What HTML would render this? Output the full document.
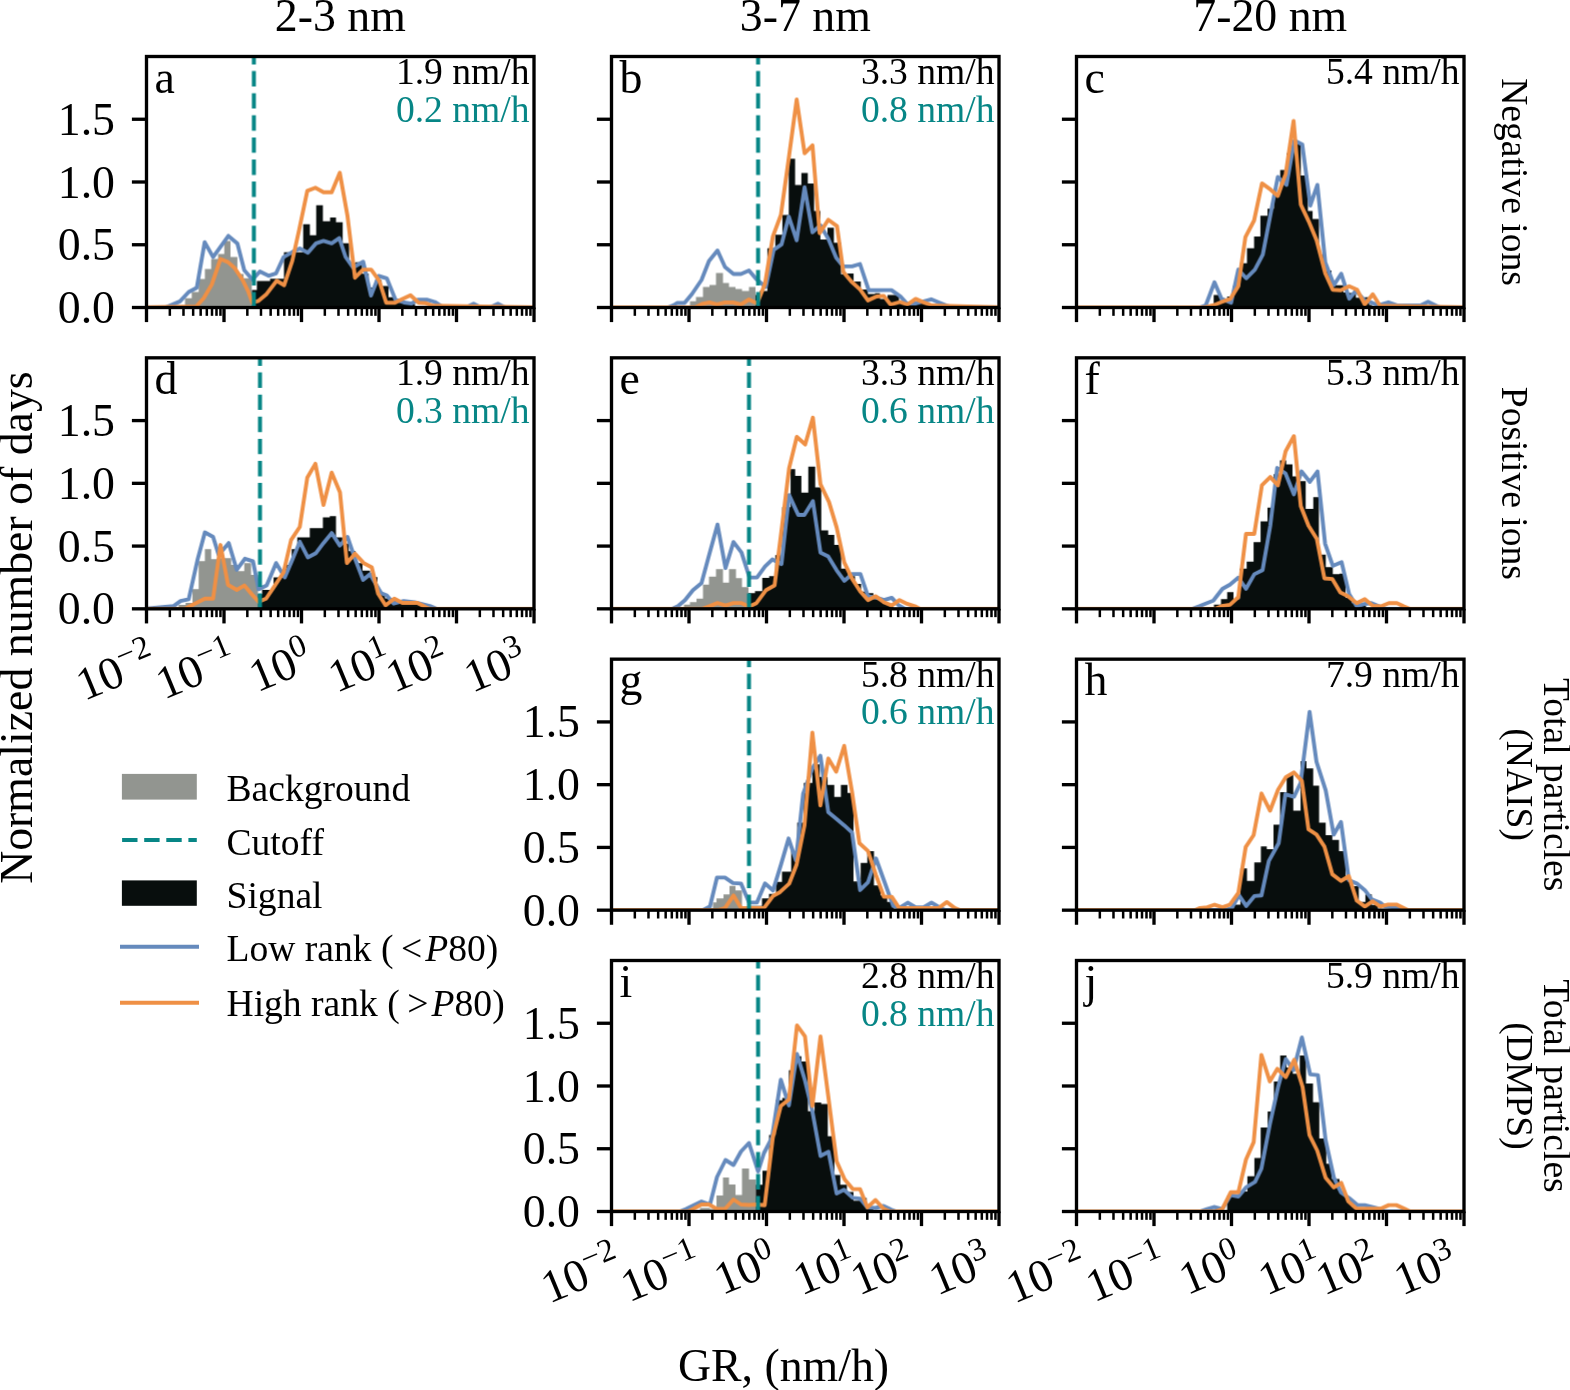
<!DOCTYPE html><html><head><meta charset="utf-8"><style>html,body{margin:0;padding:0;background:#fff;}svg{display:block;will-change:transform;}text{font-family:"Liberation Serif",serif;}</style></head><body>
<svg width="1570" height="1390" viewBox="0 0 1570 1390">
<rect width="1570" height="1390" fill="#fff"/>
<svg x="146.5" y="56.5" width="387.5" height="251.0" overflow="hidden"><g transform="translate(-146.5,-56.5)">
<path d="M185.00,309.50V298.30H191.80V309.50ZM191.80,309.50V292.10H198.70V309.50ZM198.70,309.50V278.90H204.90V309.50ZM204.90,309.50V269.00H211.20V309.50ZM211.20,309.50V259.00H218.10V309.50ZM218.10,309.50V254.00H224.30V309.50ZM224.30,309.50V240.90H230.50V309.50ZM230.50,309.50V257.10H237.40V309.50ZM237.40,309.50V274.00H243.60V309.50ZM243.60,309.50V278.30H251.80V309.50Z" fill="#929590"/>
<path d="M252.00,309.50V290.00H256.90V309.50ZM256.90,309.50V281.00H270.10V309.50ZM270.10,309.50V278.70H284.00V309.50ZM284.00,309.50V252.20H303.20V309.50ZM303.20,309.50V224.30H309.90V309.50ZM309.90,309.50V235.30H316.20V309.50ZM316.20,309.50V205.30H322.90V309.50ZM322.90,309.50V221.20H330.10V309.50ZM330.10,309.50V217.40H336.00V309.50ZM336.00,309.50V222.30H342.70V309.50ZM342.70,309.50V243.30H349.10V309.50ZM349.10,309.50V263.00H355.70V309.50ZM355.70,309.50V262.20H362.00V309.50ZM362.00,309.50V273.70H368.70V309.50ZM368.70,309.50V287.50H375.30V309.50ZM375.30,309.50V280.00H381.60V309.50ZM381.60,309.50V286.10H388.50V309.50ZM388.50,309.50V297.30H395.10V309.50ZM395.10,309.50V298.50H401.80V309.50ZM401.80,309.50V302.50H408.70V309.50ZM408.70,309.50V304.00H415.00V309.50Z" fill="#080e0d"/>
<path d="M143.50,307.50L165.50,307.50L180.00,301.40L188.70,292.00L196.80,287.70L204.70,242.10L213.10,257.10L228.40,235.90L237.40,243.40L244.30,270.20L252.40,279.60L259.90,271.50L268.60,275.80L276.10,273.30L283.60,257.10L292.30,252.10L299.80,248.40L307.90,252.70L316.00,243.40L323.50,240.90L331.70,243.40L339.30,238.10L345.60,257.00L353.00,267.50L363.20,261.70L371.00,295.60L378.70,276.00L386.80,278.30L395.40,299.60L404.10,302.50L411.50,303.70L418.00,299.60L426.80,299.60L434.90,302.00L441.70,306.50L466.00,307.50L473.60,303.80L481.00,307.50L490.00,307.50L497.90,303.80L505.00,307.50L537.00,307.50" fill="none" stroke="#658abd" stroke-width="3.9" stroke-linejoin="round" stroke-linecap="butt"/>
<path d="M143.50,307.50L196.20,306.50L203.70,298.30L211.80,284.50L220.50,259.00L228.00,262.10L234.90,268.30L242.40,279.60L248.00,290.80L252.40,302.70L258.60,300.80L266.10,294.60L276.70,280.80L284.20,285.20L292.30,260.80L299.20,229.60L307.30,190.90L315.40,187.80L323.50,192.20L331.70,192.20L339.80,172.80L347.50,215.90L355.00,277.70L363.10,269.60L371.20,269.60L379.30,280.80L386.20,302.70L394.90,302.70L402.40,298.90L410.50,295.20L418.70,302.70L426.10,303.30L433.00,305.80L537.00,307.50" fill="none" stroke="#ef9045" stroke-width="3.9" stroke-linejoin="round" stroke-linecap="butt"/>
<line x1="253.9" y1="307.5" x2="253.9" y2="56.5" stroke="#078686" stroke-width="4.0" stroke-dasharray="15.4 6.7"/>
</g></svg>
<rect x="146.5" y="56.5" width="387.5" height="251.0" fill="none" stroke="#000" stroke-width="3.33"/>
<line x1="131.90" y1="307.50" x2="146.50" y2="307.50" stroke="#000" stroke-width="3.33"/>
<line x1="131.90" y1="244.75" x2="146.50" y2="244.75" stroke="#000" stroke-width="3.33"/>
<line x1="131.90" y1="182.00" x2="146.50" y2="182.00" stroke="#000" stroke-width="3.33"/>
<line x1="131.90" y1="119.25" x2="146.50" y2="119.25" stroke="#000" stroke-width="3.33"/>
<line x1="146.50" y1="307.50" x2="146.50" y2="322.10" stroke="#000" stroke-width="3.33"/>
<line x1="169.83" y1="307.50" x2="169.83" y2="315.83" stroke="#000" stroke-width="2.5"/>
<line x1="183.48" y1="307.50" x2="183.48" y2="315.83" stroke="#000" stroke-width="2.5"/>
<line x1="193.16" y1="307.50" x2="193.16" y2="315.83" stroke="#000" stroke-width="2.5"/>
<line x1="200.67" y1="307.50" x2="200.67" y2="315.83" stroke="#000" stroke-width="2.5"/>
<line x1="206.81" y1="307.50" x2="206.81" y2="315.83" stroke="#000" stroke-width="2.5"/>
<line x1="212.00" y1="307.50" x2="212.00" y2="315.83" stroke="#000" stroke-width="2.5"/>
<line x1="216.49" y1="307.50" x2="216.49" y2="315.83" stroke="#000" stroke-width="2.5"/>
<line x1="220.45" y1="307.50" x2="220.45" y2="315.83" stroke="#000" stroke-width="2.5"/>
<line x1="224.00" y1="307.50" x2="224.00" y2="322.10" stroke="#000" stroke-width="3.33"/>
<line x1="247.33" y1="307.50" x2="247.33" y2="315.83" stroke="#000" stroke-width="2.5"/>
<line x1="260.98" y1="307.50" x2="260.98" y2="315.83" stroke="#000" stroke-width="2.5"/>
<line x1="270.66" y1="307.50" x2="270.66" y2="315.83" stroke="#000" stroke-width="2.5"/>
<line x1="278.17" y1="307.50" x2="278.17" y2="315.83" stroke="#000" stroke-width="2.5"/>
<line x1="284.31" y1="307.50" x2="284.31" y2="315.83" stroke="#000" stroke-width="2.5"/>
<line x1="289.50" y1="307.50" x2="289.50" y2="315.83" stroke="#000" stroke-width="2.5"/>
<line x1="293.99" y1="307.50" x2="293.99" y2="315.83" stroke="#000" stroke-width="2.5"/>
<line x1="297.95" y1="307.50" x2="297.95" y2="315.83" stroke="#000" stroke-width="2.5"/>
<line x1="301.50" y1="307.50" x2="301.50" y2="322.10" stroke="#000" stroke-width="3.33"/>
<line x1="324.83" y1="307.50" x2="324.83" y2="315.83" stroke="#000" stroke-width="2.5"/>
<line x1="338.48" y1="307.50" x2="338.48" y2="315.83" stroke="#000" stroke-width="2.5"/>
<line x1="348.16" y1="307.50" x2="348.16" y2="315.83" stroke="#000" stroke-width="2.5"/>
<line x1="355.67" y1="307.50" x2="355.67" y2="315.83" stroke="#000" stroke-width="2.5"/>
<line x1="361.81" y1="307.50" x2="361.81" y2="315.83" stroke="#000" stroke-width="2.5"/>
<line x1="367.00" y1="307.50" x2="367.00" y2="315.83" stroke="#000" stroke-width="2.5"/>
<line x1="371.49" y1="307.50" x2="371.49" y2="315.83" stroke="#000" stroke-width="2.5"/>
<line x1="375.45" y1="307.50" x2="375.45" y2="315.83" stroke="#000" stroke-width="2.5"/>
<line x1="379.00" y1="307.50" x2="379.00" y2="322.10" stroke="#000" stroke-width="3.33"/>
<line x1="402.33" y1="307.50" x2="402.33" y2="315.83" stroke="#000" stroke-width="2.5"/>
<line x1="415.98" y1="307.50" x2="415.98" y2="315.83" stroke="#000" stroke-width="2.5"/>
<line x1="425.66" y1="307.50" x2="425.66" y2="315.83" stroke="#000" stroke-width="2.5"/>
<line x1="433.17" y1="307.50" x2="433.17" y2="315.83" stroke="#000" stroke-width="2.5"/>
<line x1="439.31" y1="307.50" x2="439.31" y2="315.83" stroke="#000" stroke-width="2.5"/>
<line x1="444.50" y1="307.50" x2="444.50" y2="315.83" stroke="#000" stroke-width="2.5"/>
<line x1="448.99" y1="307.50" x2="448.99" y2="315.83" stroke="#000" stroke-width="2.5"/>
<line x1="452.95" y1="307.50" x2="452.95" y2="315.83" stroke="#000" stroke-width="2.5"/>
<line x1="456.50" y1="307.50" x2="456.50" y2="322.10" stroke="#000" stroke-width="3.33"/>
<line x1="479.83" y1="307.50" x2="479.83" y2="315.83" stroke="#000" stroke-width="2.5"/>
<line x1="493.48" y1="307.50" x2="493.48" y2="315.83" stroke="#000" stroke-width="2.5"/>
<line x1="503.16" y1="307.50" x2="503.16" y2="315.83" stroke="#000" stroke-width="2.5"/>
<line x1="510.67" y1="307.50" x2="510.67" y2="315.83" stroke="#000" stroke-width="2.5"/>
<line x1="516.81" y1="307.50" x2="516.81" y2="315.83" stroke="#000" stroke-width="2.5"/>
<line x1="522.00" y1="307.50" x2="522.00" y2="315.83" stroke="#000" stroke-width="2.5"/>
<line x1="526.49" y1="307.50" x2="526.49" y2="315.83" stroke="#000" stroke-width="2.5"/>
<line x1="530.45" y1="307.50" x2="530.45" y2="315.83" stroke="#000" stroke-width="2.5"/>
<line x1="534.00" y1="307.50" x2="534.00" y2="322.10" stroke="#000" stroke-width="3.33"/>
<svg x="611.5" y="56.5" width="387.5" height="251.0" overflow="hidden"><g transform="translate(-611.5,-56.5)">
<path d="M690.00,309.50V301.20H696.00V309.50ZM696.00,309.50V297.00H703.00V309.50ZM703.00,309.50V287.00H709.50V309.50ZM709.50,309.50V285.00H716.00V309.50ZM716.00,309.50V273.00H723.00V309.50ZM723.00,309.50V283.00H729.00V309.50ZM729.00,309.50V287.00H735.50V309.50ZM735.50,309.50V289.00H742.00V309.50ZM742.00,309.50V291.00H749.00V309.50ZM749.00,309.50V287.00H755.50V309.50Z" fill="#929590"/>
<path d="M755.50,309.50V295.00H759.50V309.50ZM759.50,309.50V291.00H767.40V309.50ZM767.40,309.50V248.20H775.30V309.50ZM775.30,309.50V234.80H782.40V309.50ZM782.40,309.50V215.00H788.80V309.50ZM788.80,309.50V158.80H795.10V309.50ZM795.10,309.50V184.90H801.40V309.50ZM801.40,309.50V173.10H807.80V309.50ZM807.80,309.50V183.40H814.10V309.50ZM814.10,309.50V211.00H820.40V309.50ZM820.40,309.50V239.50H827.50V309.50ZM827.50,309.50V227.70H833.90V309.50ZM833.90,309.50V242.70H841.00V309.50ZM841.00,309.50V274.30H847.30V309.50ZM847.30,309.50V273.50H853.60V309.50ZM853.60,309.50V281.50H860.80V309.50ZM860.80,309.50V289.40H867.90V309.50ZM867.90,309.50V294.10H875.00V309.50ZM875.00,309.50V293.30H880.00V309.50ZM880.00,309.50V299.00H887.60V309.50ZM887.60,309.50V295.10H899.00V309.50ZM899.00,309.50V302.80H906.50V309.50ZM906.50,309.50V304.00H914.00V309.50ZM914.00,309.50V302.80H921.50V309.50ZM921.50,309.50V303.50H932.00V309.50Z" fill="#080e0d"/>
<path d="M608.50,307.50L668.00,307.50L674.00,305.00L677.00,303.00L684.50,303.00L692.00,294.00L701.50,280.00L709.00,261.00L717.50,250.50L725.00,267.00L733.50,274.00L741.00,274.00L749.00,270.50L756.20,279.00L765.80,287.00L773.70,249.80L781.60,244.30L788.80,216.60L796.70,240.30L804.60,187.30L812.50,232.40L820.40,225.30L828.30,238.70L836.20,257.70L843.40,266.40L852.10,266.40L860.00,264.00L868.70,290.20L876.60,290.20L883.80,290.10L891.50,290.10L900.60,296.60L906.80,303.50L916.00,303.50L923.00,301.50L931.20,299.30L939.00,302.50L946.50,305.50L953.00,307.50L1002.00,307.50" fill="none" stroke="#658abd" stroke-width="3.9" stroke-linejoin="round" stroke-linecap="butt"/>
<path d="M608.50,307.50L695.00,307.50L702.00,304.00L709.50,302.50L717.00,304.50L725.00,302.50L733.00,302.50L741.00,304.50L749.00,299.50L757.10,303.60L765.00,283.80L772.90,236.40L780.90,215.00L788.80,158.00L796.70,99.50L804.60,153.30L812.50,145.40L819.60,233.20L828.30,219.70L837.00,226.10L843.40,272.00L851.30,281.50L860.00,289.40L867.90,300.40L876.60,296.50L883.80,295.90L890.70,304.70L899.90,302.00L907.50,304.70L915.60,298.90L923.60,302.40L932.00,305.50L1002.00,307.50" fill="none" stroke="#ef9045" stroke-width="3.9" stroke-linejoin="round" stroke-linecap="butt"/>
<line x1="758.1" y1="307.5" x2="758.1" y2="56.5" stroke="#078686" stroke-width="4.0" stroke-dasharray="15.4 6.7"/>
</g></svg>
<rect x="611.5" y="56.5" width="387.5" height="251.0" fill="none" stroke="#000" stroke-width="3.33"/>
<line x1="596.90" y1="307.50" x2="611.50" y2="307.50" stroke="#000" stroke-width="3.33"/>
<line x1="596.90" y1="244.75" x2="611.50" y2="244.75" stroke="#000" stroke-width="3.33"/>
<line x1="596.90" y1="182.00" x2="611.50" y2="182.00" stroke="#000" stroke-width="3.33"/>
<line x1="596.90" y1="119.25" x2="611.50" y2="119.25" stroke="#000" stroke-width="3.33"/>
<line x1="611.50" y1="307.50" x2="611.50" y2="322.10" stroke="#000" stroke-width="3.33"/>
<line x1="634.83" y1="307.50" x2="634.83" y2="315.83" stroke="#000" stroke-width="2.5"/>
<line x1="648.48" y1="307.50" x2="648.48" y2="315.83" stroke="#000" stroke-width="2.5"/>
<line x1="658.16" y1="307.50" x2="658.16" y2="315.83" stroke="#000" stroke-width="2.5"/>
<line x1="665.67" y1="307.50" x2="665.67" y2="315.83" stroke="#000" stroke-width="2.5"/>
<line x1="671.81" y1="307.50" x2="671.81" y2="315.83" stroke="#000" stroke-width="2.5"/>
<line x1="677.00" y1="307.50" x2="677.00" y2="315.83" stroke="#000" stroke-width="2.5"/>
<line x1="681.49" y1="307.50" x2="681.49" y2="315.83" stroke="#000" stroke-width="2.5"/>
<line x1="685.45" y1="307.50" x2="685.45" y2="315.83" stroke="#000" stroke-width="2.5"/>
<line x1="689.00" y1="307.50" x2="689.00" y2="322.10" stroke="#000" stroke-width="3.33"/>
<line x1="712.33" y1="307.50" x2="712.33" y2="315.83" stroke="#000" stroke-width="2.5"/>
<line x1="725.98" y1="307.50" x2="725.98" y2="315.83" stroke="#000" stroke-width="2.5"/>
<line x1="735.66" y1="307.50" x2="735.66" y2="315.83" stroke="#000" stroke-width="2.5"/>
<line x1="743.17" y1="307.50" x2="743.17" y2="315.83" stroke="#000" stroke-width="2.5"/>
<line x1="749.31" y1="307.50" x2="749.31" y2="315.83" stroke="#000" stroke-width="2.5"/>
<line x1="754.50" y1="307.50" x2="754.50" y2="315.83" stroke="#000" stroke-width="2.5"/>
<line x1="758.99" y1="307.50" x2="758.99" y2="315.83" stroke="#000" stroke-width="2.5"/>
<line x1="762.95" y1="307.50" x2="762.95" y2="315.83" stroke="#000" stroke-width="2.5"/>
<line x1="766.50" y1="307.50" x2="766.50" y2="322.10" stroke="#000" stroke-width="3.33"/>
<line x1="789.83" y1="307.50" x2="789.83" y2="315.83" stroke="#000" stroke-width="2.5"/>
<line x1="803.48" y1="307.50" x2="803.48" y2="315.83" stroke="#000" stroke-width="2.5"/>
<line x1="813.16" y1="307.50" x2="813.16" y2="315.83" stroke="#000" stroke-width="2.5"/>
<line x1="820.67" y1="307.50" x2="820.67" y2="315.83" stroke="#000" stroke-width="2.5"/>
<line x1="826.81" y1="307.50" x2="826.81" y2="315.83" stroke="#000" stroke-width="2.5"/>
<line x1="832.00" y1="307.50" x2="832.00" y2="315.83" stroke="#000" stroke-width="2.5"/>
<line x1="836.49" y1="307.50" x2="836.49" y2="315.83" stroke="#000" stroke-width="2.5"/>
<line x1="840.45" y1="307.50" x2="840.45" y2="315.83" stroke="#000" stroke-width="2.5"/>
<line x1="844.00" y1="307.50" x2="844.00" y2="322.10" stroke="#000" stroke-width="3.33"/>
<line x1="867.33" y1="307.50" x2="867.33" y2="315.83" stroke="#000" stroke-width="2.5"/>
<line x1="880.98" y1="307.50" x2="880.98" y2="315.83" stroke="#000" stroke-width="2.5"/>
<line x1="890.66" y1="307.50" x2="890.66" y2="315.83" stroke="#000" stroke-width="2.5"/>
<line x1="898.17" y1="307.50" x2="898.17" y2="315.83" stroke="#000" stroke-width="2.5"/>
<line x1="904.31" y1="307.50" x2="904.31" y2="315.83" stroke="#000" stroke-width="2.5"/>
<line x1="909.50" y1="307.50" x2="909.50" y2="315.83" stroke="#000" stroke-width="2.5"/>
<line x1="913.99" y1="307.50" x2="913.99" y2="315.83" stroke="#000" stroke-width="2.5"/>
<line x1="917.95" y1="307.50" x2="917.95" y2="315.83" stroke="#000" stroke-width="2.5"/>
<line x1="921.50" y1="307.50" x2="921.50" y2="322.10" stroke="#000" stroke-width="3.33"/>
<line x1="944.83" y1="307.50" x2="944.83" y2="315.83" stroke="#000" stroke-width="2.5"/>
<line x1="958.48" y1="307.50" x2="958.48" y2="315.83" stroke="#000" stroke-width="2.5"/>
<line x1="968.16" y1="307.50" x2="968.16" y2="315.83" stroke="#000" stroke-width="2.5"/>
<line x1="975.67" y1="307.50" x2="975.67" y2="315.83" stroke="#000" stroke-width="2.5"/>
<line x1="981.81" y1="307.50" x2="981.81" y2="315.83" stroke="#000" stroke-width="2.5"/>
<line x1="987.00" y1="307.50" x2="987.00" y2="315.83" stroke="#000" stroke-width="2.5"/>
<line x1="991.49" y1="307.50" x2="991.49" y2="315.83" stroke="#000" stroke-width="2.5"/>
<line x1="995.45" y1="307.50" x2="995.45" y2="315.83" stroke="#000" stroke-width="2.5"/>
<line x1="999.00" y1="307.50" x2="999.00" y2="322.10" stroke="#000" stroke-width="3.33"/>
<svg x="1076.5" y="56.5" width="387.5" height="251.0" overflow="hidden"><g transform="translate(-1076.5,-56.5)">
<path d="M1213.70,309.50V294.90H1220.90V309.50ZM1220.90,309.50V300.40H1227.20V309.50ZM1227.20,309.50V296.50H1232.70V309.50ZM1232.70,309.50V286.20H1239.80V309.50ZM1239.80,309.50V263.30H1247.00V309.50ZM1247.00,309.50V248.20H1254.10V309.50ZM1254.10,309.50V236.40H1260.40V309.50ZM1260.40,309.50V215.80H1267.50V309.50ZM1267.50,309.50V208.70H1273.90V309.50ZM1273.90,309.50V194.40H1280.20V309.50ZM1280.20,309.50V169.90H1286.50V309.50ZM1286.50,309.50V153.30H1293.60V309.50ZM1293.60,309.50V143.00H1300.80V309.50ZM1300.80,309.50V175.40H1307.90V309.50ZM1307.90,309.50V211.00H1312.60V309.50ZM1312.60,309.50V219.00H1319.00V309.50ZM1319.00,309.50V254.60H1326.10V309.50ZM1326.10,309.50V270.40H1331.50V309.50ZM1331.50,309.50V285.30H1343.40V309.50ZM1343.40,309.50V292.40H1349.60V309.50ZM1349.60,309.50V293.00H1355.90V309.50ZM1355.90,309.50V297.80H1364.80V309.50ZM1364.80,309.50V297.30H1369.30V309.50ZM1369.30,309.50V305.00H1372.00V309.50Z" fill="#080e0d"/>
<path d="M1073.50,307.50L1200.00,307.50L1205.80,305.20L1214.50,282.20L1221.60,298.90L1231.10,302.80L1238.30,269.60L1246.20,278.30L1254.90,269.60L1262.80,254.60L1270.70,213.40L1277.80,177.00L1286.50,184.90L1294.40,140.60L1302.30,144.60L1310.30,205.50L1317.40,184.90L1325.30,262.50L1334.00,285.00L1341.20,273.70L1349.20,298.70L1355.90,290.70L1364.80,300.50L1371.90,302.70L1378.20,305.40L1388.40,302.30L1396.90,305.40L1420.50,305.40L1428.10,301.80L1435.70,305.40L1440.00,307.50L1467.00,307.50" fill="none" stroke="#658abd" stroke-width="3.9" stroke-linejoin="round" stroke-linecap="butt"/>
<path d="M1073.50,307.50L1205.00,307.50L1213.70,305.20L1221.60,302.00L1230.30,298.90L1238.30,286.20L1245.40,237.20L1254.10,220.50L1262.00,183.40L1270.70,189.70L1277.80,196.00L1285.70,173.90L1293.60,120.90L1300.80,204.70L1308.70,221.30L1316.60,240.30L1325.30,273.50L1332.70,289.80L1340.70,290.20L1349.20,286.20L1357.20,289.80L1364.80,304.50L1372.80,294.20L1380.00,305.80L1467.00,307.50" fill="none" stroke="#ef9045" stroke-width="3.9" stroke-linejoin="round" stroke-linecap="butt"/>
</g></svg>
<rect x="1076.5" y="56.5" width="387.5" height="251.0" fill="none" stroke="#000" stroke-width="3.33"/>
<line x1="1061.90" y1="307.50" x2="1076.50" y2="307.50" stroke="#000" stroke-width="3.33"/>
<line x1="1061.90" y1="244.75" x2="1076.50" y2="244.75" stroke="#000" stroke-width="3.33"/>
<line x1="1061.90" y1="182.00" x2="1076.50" y2="182.00" stroke="#000" stroke-width="3.33"/>
<line x1="1061.90" y1="119.25" x2="1076.50" y2="119.25" stroke="#000" stroke-width="3.33"/>
<line x1="1076.50" y1="307.50" x2="1076.50" y2="322.10" stroke="#000" stroke-width="3.33"/>
<line x1="1099.83" y1="307.50" x2="1099.83" y2="315.83" stroke="#000" stroke-width="2.5"/>
<line x1="1113.48" y1="307.50" x2="1113.48" y2="315.83" stroke="#000" stroke-width="2.5"/>
<line x1="1123.16" y1="307.50" x2="1123.16" y2="315.83" stroke="#000" stroke-width="2.5"/>
<line x1="1130.67" y1="307.50" x2="1130.67" y2="315.83" stroke="#000" stroke-width="2.5"/>
<line x1="1136.81" y1="307.50" x2="1136.81" y2="315.83" stroke="#000" stroke-width="2.5"/>
<line x1="1142.00" y1="307.50" x2="1142.00" y2="315.83" stroke="#000" stroke-width="2.5"/>
<line x1="1146.49" y1="307.50" x2="1146.49" y2="315.83" stroke="#000" stroke-width="2.5"/>
<line x1="1150.45" y1="307.50" x2="1150.45" y2="315.83" stroke="#000" stroke-width="2.5"/>
<line x1="1154.00" y1="307.50" x2="1154.00" y2="322.10" stroke="#000" stroke-width="3.33"/>
<line x1="1177.33" y1="307.50" x2="1177.33" y2="315.83" stroke="#000" stroke-width="2.5"/>
<line x1="1190.98" y1="307.50" x2="1190.98" y2="315.83" stroke="#000" stroke-width="2.5"/>
<line x1="1200.66" y1="307.50" x2="1200.66" y2="315.83" stroke="#000" stroke-width="2.5"/>
<line x1="1208.17" y1="307.50" x2="1208.17" y2="315.83" stroke="#000" stroke-width="2.5"/>
<line x1="1214.31" y1="307.50" x2="1214.31" y2="315.83" stroke="#000" stroke-width="2.5"/>
<line x1="1219.50" y1="307.50" x2="1219.50" y2="315.83" stroke="#000" stroke-width="2.5"/>
<line x1="1223.99" y1="307.50" x2="1223.99" y2="315.83" stroke="#000" stroke-width="2.5"/>
<line x1="1227.95" y1="307.50" x2="1227.95" y2="315.83" stroke="#000" stroke-width="2.5"/>
<line x1="1231.50" y1="307.50" x2="1231.50" y2="322.10" stroke="#000" stroke-width="3.33"/>
<line x1="1254.83" y1="307.50" x2="1254.83" y2="315.83" stroke="#000" stroke-width="2.5"/>
<line x1="1268.48" y1="307.50" x2="1268.48" y2="315.83" stroke="#000" stroke-width="2.5"/>
<line x1="1278.16" y1="307.50" x2="1278.16" y2="315.83" stroke="#000" stroke-width="2.5"/>
<line x1="1285.67" y1="307.50" x2="1285.67" y2="315.83" stroke="#000" stroke-width="2.5"/>
<line x1="1291.81" y1="307.50" x2="1291.81" y2="315.83" stroke="#000" stroke-width="2.5"/>
<line x1="1297.00" y1="307.50" x2="1297.00" y2="315.83" stroke="#000" stroke-width="2.5"/>
<line x1="1301.49" y1="307.50" x2="1301.49" y2="315.83" stroke="#000" stroke-width="2.5"/>
<line x1="1305.45" y1="307.50" x2="1305.45" y2="315.83" stroke="#000" stroke-width="2.5"/>
<line x1="1309.00" y1="307.50" x2="1309.00" y2="322.10" stroke="#000" stroke-width="3.33"/>
<line x1="1332.33" y1="307.50" x2="1332.33" y2="315.83" stroke="#000" stroke-width="2.5"/>
<line x1="1345.98" y1="307.50" x2="1345.98" y2="315.83" stroke="#000" stroke-width="2.5"/>
<line x1="1355.66" y1="307.50" x2="1355.66" y2="315.83" stroke="#000" stroke-width="2.5"/>
<line x1="1363.17" y1="307.50" x2="1363.17" y2="315.83" stroke="#000" stroke-width="2.5"/>
<line x1="1369.31" y1="307.50" x2="1369.31" y2="315.83" stroke="#000" stroke-width="2.5"/>
<line x1="1374.50" y1="307.50" x2="1374.50" y2="315.83" stroke="#000" stroke-width="2.5"/>
<line x1="1378.99" y1="307.50" x2="1378.99" y2="315.83" stroke="#000" stroke-width="2.5"/>
<line x1="1382.95" y1="307.50" x2="1382.95" y2="315.83" stroke="#000" stroke-width="2.5"/>
<line x1="1386.50" y1="307.50" x2="1386.50" y2="322.10" stroke="#000" stroke-width="3.33"/>
<line x1="1409.83" y1="307.50" x2="1409.83" y2="315.83" stroke="#000" stroke-width="2.5"/>
<line x1="1423.48" y1="307.50" x2="1423.48" y2="315.83" stroke="#000" stroke-width="2.5"/>
<line x1="1433.16" y1="307.50" x2="1433.16" y2="315.83" stroke="#000" stroke-width="2.5"/>
<line x1="1440.67" y1="307.50" x2="1440.67" y2="315.83" stroke="#000" stroke-width="2.5"/>
<line x1="1446.81" y1="307.50" x2="1446.81" y2="315.83" stroke="#000" stroke-width="2.5"/>
<line x1="1452.00" y1="307.50" x2="1452.00" y2="315.83" stroke="#000" stroke-width="2.5"/>
<line x1="1456.49" y1="307.50" x2="1456.49" y2="315.83" stroke="#000" stroke-width="2.5"/>
<line x1="1460.45" y1="307.50" x2="1460.45" y2="315.83" stroke="#000" stroke-width="2.5"/>
<line x1="1464.00" y1="307.50" x2="1464.00" y2="322.10" stroke="#000" stroke-width="3.33"/>
<svg x="146.5" y="357.83" width="387.5" height="251.0" overflow="hidden"><g transform="translate(-146.5,-357.83)">
<path d="M178.70,610.83V604.80H185.60V610.83ZM185.60,610.83V602.90H192.50V610.83ZM192.50,610.83V589.20H198.70V610.83ZM198.70,610.83V561.10H204.90V610.83ZM204.90,610.83V549.20H211.20V610.83ZM211.20,610.83V559.20H218.10V610.83ZM218.10,610.83V558.00H224.30V610.83ZM224.30,610.83V558.00H231.20V610.83ZM231.20,610.83V564.80H238.00V610.83ZM238.00,610.83V571.00H244.30V610.83ZM244.30,610.83V563.00H251.10V610.83ZM251.10,610.83V574.80H258.00V610.83Z" fill="#929590"/>
<path d="M258.00,610.83V594.20H262.10V610.83ZM262.10,610.83V589.80H273.60V610.83ZM273.60,610.83V577.30H283.60V610.83ZM283.60,610.83V564.80H291.70V610.83ZM291.70,610.83V549.20H297.30V610.83ZM297.30,610.83V537.40H309.80V610.83ZM309.80,610.83V528.00H322.90V610.83ZM322.90,610.83V517.40H329.80V610.83ZM329.80,610.83V516.20H336.00V610.83ZM336.00,610.83V537.40H342.30V610.83ZM342.30,610.83V543.60H348.70V610.83ZM348.70,610.83V551.10H355.60V610.83ZM355.60,610.83V563.00H362.50V610.83ZM362.50,610.83V570.50H370.00V610.83ZM370.00,610.83V577.00H377.50V610.83ZM377.50,610.83V593.50H385.00V610.83ZM385.00,610.83V598.40H392.50V610.83ZM392.50,610.83V601.00H400.00V610.83ZM400.00,610.83V601.70H415.00V610.83ZM415.00,610.83V604.50H427.00V610.83Z" fill="#080e0d"/>
<path d="M143.50,608.83L173.70,606.00L180.60,601.00L188.70,599.20L197.50,559.90L204.90,532.40L213.10,536.80L218.70,554.90L228.70,543.00L236.80,569.80L244.90,558.60L253.00,561.10L258.60,589.20L266.70,585.40L276.10,563.00L284.80,577.30L292.30,559.90L299.80,541.70L307.90,557.40L316.00,553.00L323.50,543.00L331.70,533.00L339.80,545.50L347.50,536.80L355.00,558.60L363.10,579.80L370.00,574.20L381.20,593.00L386.80,595.40L393.70,603.50L403.70,601.00L414.90,602.30L429.90,606.00L437.00,608.80L537.00,608.83" fill="none" stroke="#658abd" stroke-width="3.9" stroke-linejoin="round" stroke-linecap="butt"/>
<path d="M143.50,608.83L185.00,608.80L190.00,606.00L197.50,602.30L204.90,598.60L213.10,598.60L220.50,544.90L228.00,584.80L236.80,589.80L244.30,585.40L251.80,594.20L258.60,601.70L266.10,598.60L273.60,587.40L283.60,572.30L291.10,539.90L299.80,526.80L307.30,477.50L315.40,463.70L323.50,504.90L331.70,472.50L340.00,492.40L346.90,563.00L355.00,553.60L363.70,563.00L371.80,567.30L378.10,593.60L385.60,605.40L394.30,598.60L402.40,602.90L417.40,602.90L426.10,607.30L430.00,608.80L537.00,608.83" fill="none" stroke="#ef9045" stroke-width="3.9" stroke-linejoin="round" stroke-linecap="butt"/>
<line x1="260.0" y1="608.8299999999999" x2="260.0" y2="357.83" stroke="#078686" stroke-width="4.0" stroke-dasharray="15.4 6.7"/>
</g></svg>
<rect x="146.5" y="357.83" width="387.5" height="251.0" fill="none" stroke="#000" stroke-width="3.33"/>
<line x1="131.90" y1="608.83" x2="146.50" y2="608.83" stroke="#000" stroke-width="3.33"/>
<line x1="131.90" y1="546.08" x2="146.50" y2="546.08" stroke="#000" stroke-width="3.33"/>
<line x1="131.90" y1="483.33" x2="146.50" y2="483.33" stroke="#000" stroke-width="3.33"/>
<line x1="131.90" y1="420.58" x2="146.50" y2="420.58" stroke="#000" stroke-width="3.33"/>
<line x1="146.50" y1="608.83" x2="146.50" y2="623.43" stroke="#000" stroke-width="3.33"/>
<line x1="169.83" y1="608.83" x2="169.83" y2="617.16" stroke="#000" stroke-width="2.5"/>
<line x1="183.48" y1="608.83" x2="183.48" y2="617.16" stroke="#000" stroke-width="2.5"/>
<line x1="193.16" y1="608.83" x2="193.16" y2="617.16" stroke="#000" stroke-width="2.5"/>
<line x1="200.67" y1="608.83" x2="200.67" y2="617.16" stroke="#000" stroke-width="2.5"/>
<line x1="206.81" y1="608.83" x2="206.81" y2="617.16" stroke="#000" stroke-width="2.5"/>
<line x1="212.00" y1="608.83" x2="212.00" y2="617.16" stroke="#000" stroke-width="2.5"/>
<line x1="216.49" y1="608.83" x2="216.49" y2="617.16" stroke="#000" stroke-width="2.5"/>
<line x1="220.45" y1="608.83" x2="220.45" y2="617.16" stroke="#000" stroke-width="2.5"/>
<line x1="224.00" y1="608.83" x2="224.00" y2="623.43" stroke="#000" stroke-width="3.33"/>
<line x1="247.33" y1="608.83" x2="247.33" y2="617.16" stroke="#000" stroke-width="2.5"/>
<line x1="260.98" y1="608.83" x2="260.98" y2="617.16" stroke="#000" stroke-width="2.5"/>
<line x1="270.66" y1="608.83" x2="270.66" y2="617.16" stroke="#000" stroke-width="2.5"/>
<line x1="278.17" y1="608.83" x2="278.17" y2="617.16" stroke="#000" stroke-width="2.5"/>
<line x1="284.31" y1="608.83" x2="284.31" y2="617.16" stroke="#000" stroke-width="2.5"/>
<line x1="289.50" y1="608.83" x2="289.50" y2="617.16" stroke="#000" stroke-width="2.5"/>
<line x1="293.99" y1="608.83" x2="293.99" y2="617.16" stroke="#000" stroke-width="2.5"/>
<line x1="297.95" y1="608.83" x2="297.95" y2="617.16" stroke="#000" stroke-width="2.5"/>
<line x1="301.50" y1="608.83" x2="301.50" y2="623.43" stroke="#000" stroke-width="3.33"/>
<line x1="324.83" y1="608.83" x2="324.83" y2="617.16" stroke="#000" stroke-width="2.5"/>
<line x1="338.48" y1="608.83" x2="338.48" y2="617.16" stroke="#000" stroke-width="2.5"/>
<line x1="348.16" y1="608.83" x2="348.16" y2="617.16" stroke="#000" stroke-width="2.5"/>
<line x1="355.67" y1="608.83" x2="355.67" y2="617.16" stroke="#000" stroke-width="2.5"/>
<line x1="361.81" y1="608.83" x2="361.81" y2="617.16" stroke="#000" stroke-width="2.5"/>
<line x1="367.00" y1="608.83" x2="367.00" y2="617.16" stroke="#000" stroke-width="2.5"/>
<line x1="371.49" y1="608.83" x2="371.49" y2="617.16" stroke="#000" stroke-width="2.5"/>
<line x1="375.45" y1="608.83" x2="375.45" y2="617.16" stroke="#000" stroke-width="2.5"/>
<line x1="379.00" y1="608.83" x2="379.00" y2="623.43" stroke="#000" stroke-width="3.33"/>
<line x1="402.33" y1="608.83" x2="402.33" y2="617.16" stroke="#000" stroke-width="2.5"/>
<line x1="415.98" y1="608.83" x2="415.98" y2="617.16" stroke="#000" stroke-width="2.5"/>
<line x1="425.66" y1="608.83" x2="425.66" y2="617.16" stroke="#000" stroke-width="2.5"/>
<line x1="433.17" y1="608.83" x2="433.17" y2="617.16" stroke="#000" stroke-width="2.5"/>
<line x1="439.31" y1="608.83" x2="439.31" y2="617.16" stroke="#000" stroke-width="2.5"/>
<line x1="444.50" y1="608.83" x2="444.50" y2="617.16" stroke="#000" stroke-width="2.5"/>
<line x1="448.99" y1="608.83" x2="448.99" y2="617.16" stroke="#000" stroke-width="2.5"/>
<line x1="452.95" y1="608.83" x2="452.95" y2="617.16" stroke="#000" stroke-width="2.5"/>
<line x1="456.50" y1="608.83" x2="456.50" y2="623.43" stroke="#000" stroke-width="3.33"/>
<line x1="479.83" y1="608.83" x2="479.83" y2="617.16" stroke="#000" stroke-width="2.5"/>
<line x1="493.48" y1="608.83" x2="493.48" y2="617.16" stroke="#000" stroke-width="2.5"/>
<line x1="503.16" y1="608.83" x2="503.16" y2="617.16" stroke="#000" stroke-width="2.5"/>
<line x1="510.67" y1="608.83" x2="510.67" y2="617.16" stroke="#000" stroke-width="2.5"/>
<line x1="516.81" y1="608.83" x2="516.81" y2="617.16" stroke="#000" stroke-width="2.5"/>
<line x1="522.00" y1="608.83" x2="522.00" y2="617.16" stroke="#000" stroke-width="2.5"/>
<line x1="526.49" y1="608.83" x2="526.49" y2="617.16" stroke="#000" stroke-width="2.5"/>
<line x1="530.45" y1="608.83" x2="530.45" y2="617.16" stroke="#000" stroke-width="2.5"/>
<line x1="534.00" y1="608.83" x2="534.00" y2="623.43" stroke="#000" stroke-width="3.33"/>
<svg x="611.5" y="357.83" width="387.5" height="251.0" overflow="hidden"><g transform="translate(-611.5,-357.83)">
<path d="M684.00,610.83V604.50H690.00V610.83ZM690.00,610.83V602.00H696.50V610.83ZM696.50,610.83V598.50H703.00V610.83ZM703.00,610.83V584.50H709.00V610.83ZM709.00,610.83V576.50H716.00V610.83ZM716.00,610.83V569.00H723.00V610.83ZM723.00,610.83V582.50H729.00V610.83ZM729.00,610.83V569.00H736.00V610.83ZM736.00,610.83V578.00H742.00V610.83ZM742.00,610.83V587.00H748.50V610.83Z" fill="#929590"/>
<path d="M748.50,610.83V593.00H755.00V610.83ZM755.00,610.83V591.00H762.30V610.83ZM762.30,610.83V577.80H769.20V610.83ZM769.20,610.83V576.20H775.30V610.83ZM775.30,610.83V555.00H782.20V610.83ZM782.20,610.83V507.00H790.60V610.83ZM790.60,610.83V469.00H795.20V610.83ZM795.20,610.83V475.90H801.40V610.83ZM801.40,610.83V492.70H808.30V610.83ZM808.30,610.83V466.70H815.20V610.83ZM815.20,610.83V487.40H821.30V610.83ZM821.30,610.83V530.30H828.20V610.83ZM828.20,610.83V534.90H834.30V610.83ZM834.30,610.83V544.80H841.20V610.83ZM841.20,610.83V568.60H848.10V610.83ZM848.10,610.83V576.20H855.00V610.83ZM855.00,610.83V583.90H861.10V610.83ZM861.10,610.83V591.60H867.30V610.83ZM867.30,610.83V593.10H873.40V610.83ZM873.40,610.83V599.20H882.60V610.83ZM882.60,610.83V603.80H893.30V610.83Z" fill="#080e0d"/>
<path d="M608.50,608.83L672.00,608.80L678.00,606.00L685.00,600.00L693.00,590.00L701.50,583.00L709.50,553.50L717.50,524.50L725.50,568.00L733.50,542.00L741.50,552.50L749.50,577.50L757.00,577.50L765.00,566.50L772.30,559.40L781.50,564.00L789.10,495.00L798.30,514.90L804.40,514.90L812.90,501.10L820.50,552.50L828.20,556.30L836.60,570.10L844.30,580.80L852.00,574.00L860.40,574.00L868.00,596.20L876.00,597.50L884.00,600.00L891.80,597.70L898.70,605.40L905.00,608.80L1002.00,608.83" fill="none" stroke="#658abd" stroke-width="3.9" stroke-linejoin="round" stroke-linecap="butt"/>
<path d="M608.50,608.83L702.00,608.80L710.00,606.00L717.50,603.00L725.50,605.50L733.50,603.00L741.50,603.00L749.00,606.50L756.50,603.00L766.10,590.00L774.60,585.40L781.50,530.30L789.10,468.20L796.80,436.80L805.20,444.40L812.90,417.60L820.50,484.30L829.00,501.90L836.60,527.20L844.30,562.50L852.00,578.50L860.40,591.60L868.00,600.00L875.70,596.20L884.10,602.30L891.80,605.40L899.50,600.00L907.10,603.80L914.80,606.10L920.00,608.80L1002.00,608.83" fill="none" stroke="#ef9045" stroke-width="3.9" stroke-linejoin="round" stroke-linecap="butt"/>
<line x1="749.0" y1="608.8299999999999" x2="749.0" y2="357.83" stroke="#078686" stroke-width="4.0" stroke-dasharray="15.4 6.7"/>
</g></svg>
<rect x="611.5" y="357.83" width="387.5" height="251.0" fill="none" stroke="#000" stroke-width="3.33"/>
<line x1="596.90" y1="608.83" x2="611.50" y2="608.83" stroke="#000" stroke-width="3.33"/>
<line x1="596.90" y1="546.08" x2="611.50" y2="546.08" stroke="#000" stroke-width="3.33"/>
<line x1="596.90" y1="483.33" x2="611.50" y2="483.33" stroke="#000" stroke-width="3.33"/>
<line x1="596.90" y1="420.58" x2="611.50" y2="420.58" stroke="#000" stroke-width="3.33"/>
<line x1="611.50" y1="608.83" x2="611.50" y2="623.43" stroke="#000" stroke-width="3.33"/>
<line x1="634.83" y1="608.83" x2="634.83" y2="617.16" stroke="#000" stroke-width="2.5"/>
<line x1="648.48" y1="608.83" x2="648.48" y2="617.16" stroke="#000" stroke-width="2.5"/>
<line x1="658.16" y1="608.83" x2="658.16" y2="617.16" stroke="#000" stroke-width="2.5"/>
<line x1="665.67" y1="608.83" x2="665.67" y2="617.16" stroke="#000" stroke-width="2.5"/>
<line x1="671.81" y1="608.83" x2="671.81" y2="617.16" stroke="#000" stroke-width="2.5"/>
<line x1="677.00" y1="608.83" x2="677.00" y2="617.16" stroke="#000" stroke-width="2.5"/>
<line x1="681.49" y1="608.83" x2="681.49" y2="617.16" stroke="#000" stroke-width="2.5"/>
<line x1="685.45" y1="608.83" x2="685.45" y2="617.16" stroke="#000" stroke-width="2.5"/>
<line x1="689.00" y1="608.83" x2="689.00" y2="623.43" stroke="#000" stroke-width="3.33"/>
<line x1="712.33" y1="608.83" x2="712.33" y2="617.16" stroke="#000" stroke-width="2.5"/>
<line x1="725.98" y1="608.83" x2="725.98" y2="617.16" stroke="#000" stroke-width="2.5"/>
<line x1="735.66" y1="608.83" x2="735.66" y2="617.16" stroke="#000" stroke-width="2.5"/>
<line x1="743.17" y1="608.83" x2="743.17" y2="617.16" stroke="#000" stroke-width="2.5"/>
<line x1="749.31" y1="608.83" x2="749.31" y2="617.16" stroke="#000" stroke-width="2.5"/>
<line x1="754.50" y1="608.83" x2="754.50" y2="617.16" stroke="#000" stroke-width="2.5"/>
<line x1="758.99" y1="608.83" x2="758.99" y2="617.16" stroke="#000" stroke-width="2.5"/>
<line x1="762.95" y1="608.83" x2="762.95" y2="617.16" stroke="#000" stroke-width="2.5"/>
<line x1="766.50" y1="608.83" x2="766.50" y2="623.43" stroke="#000" stroke-width="3.33"/>
<line x1="789.83" y1="608.83" x2="789.83" y2="617.16" stroke="#000" stroke-width="2.5"/>
<line x1="803.48" y1="608.83" x2="803.48" y2="617.16" stroke="#000" stroke-width="2.5"/>
<line x1="813.16" y1="608.83" x2="813.16" y2="617.16" stroke="#000" stroke-width="2.5"/>
<line x1="820.67" y1="608.83" x2="820.67" y2="617.16" stroke="#000" stroke-width="2.5"/>
<line x1="826.81" y1="608.83" x2="826.81" y2="617.16" stroke="#000" stroke-width="2.5"/>
<line x1="832.00" y1="608.83" x2="832.00" y2="617.16" stroke="#000" stroke-width="2.5"/>
<line x1="836.49" y1="608.83" x2="836.49" y2="617.16" stroke="#000" stroke-width="2.5"/>
<line x1="840.45" y1="608.83" x2="840.45" y2="617.16" stroke="#000" stroke-width="2.5"/>
<line x1="844.00" y1="608.83" x2="844.00" y2="623.43" stroke="#000" stroke-width="3.33"/>
<line x1="867.33" y1="608.83" x2="867.33" y2="617.16" stroke="#000" stroke-width="2.5"/>
<line x1="880.98" y1="608.83" x2="880.98" y2="617.16" stroke="#000" stroke-width="2.5"/>
<line x1="890.66" y1="608.83" x2="890.66" y2="617.16" stroke="#000" stroke-width="2.5"/>
<line x1="898.17" y1="608.83" x2="898.17" y2="617.16" stroke="#000" stroke-width="2.5"/>
<line x1="904.31" y1="608.83" x2="904.31" y2="617.16" stroke="#000" stroke-width="2.5"/>
<line x1="909.50" y1="608.83" x2="909.50" y2="617.16" stroke="#000" stroke-width="2.5"/>
<line x1="913.99" y1="608.83" x2="913.99" y2="617.16" stroke="#000" stroke-width="2.5"/>
<line x1="917.95" y1="608.83" x2="917.95" y2="617.16" stroke="#000" stroke-width="2.5"/>
<line x1="921.50" y1="608.83" x2="921.50" y2="623.43" stroke="#000" stroke-width="3.33"/>
<line x1="944.83" y1="608.83" x2="944.83" y2="617.16" stroke="#000" stroke-width="2.5"/>
<line x1="958.48" y1="608.83" x2="958.48" y2="617.16" stroke="#000" stroke-width="2.5"/>
<line x1="968.16" y1="608.83" x2="968.16" y2="617.16" stroke="#000" stroke-width="2.5"/>
<line x1="975.67" y1="608.83" x2="975.67" y2="617.16" stroke="#000" stroke-width="2.5"/>
<line x1="981.81" y1="608.83" x2="981.81" y2="617.16" stroke="#000" stroke-width="2.5"/>
<line x1="987.00" y1="608.83" x2="987.00" y2="617.16" stroke="#000" stroke-width="2.5"/>
<line x1="991.49" y1="608.83" x2="991.49" y2="617.16" stroke="#000" stroke-width="2.5"/>
<line x1="995.45" y1="608.83" x2="995.45" y2="617.16" stroke="#000" stroke-width="2.5"/>
<line x1="999.00" y1="608.83" x2="999.00" y2="623.43" stroke="#000" stroke-width="3.33"/>
<svg x="1076.5" y="357.83" width="387.5" height="251.0" overflow="hidden"><g transform="translate(-1076.5,-357.83)">
<path d="M1214.00,610.83V604.70H1221.00V610.83ZM1221.00,610.83V599.20H1227.20V610.83ZM1227.20,610.83V592.20H1233.50V610.83ZM1233.50,610.83V599.00H1239.70V610.83ZM1239.70,610.83V568.60H1246.70V610.83ZM1246.70,610.83V561.70H1253.60V610.83ZM1253.60,610.83V542.20H1260.60V610.83ZM1260.60,610.83V521.40H1267.50V610.83ZM1267.50,610.83V507.50H1273.75V610.83ZM1273.75,610.83V474.20H1280.00V610.83ZM1280.00,610.83V460.30H1286.25V610.83ZM1286.25,610.83V464.40H1292.50V610.83ZM1292.50,610.83V476.30H1299.40V610.83ZM1299.40,610.83V481.10H1305.70V610.83ZM1305.70,610.83V508.90H1313.30V610.83ZM1313.30,610.83V497.10H1318.90V610.83ZM1318.90,610.83V554.70H1325.80V610.83ZM1325.80,610.83V567.20H1332.80V610.83ZM1332.80,610.83V574.20H1339.40V610.83ZM1339.40,610.83V573.70H1345.60V610.83ZM1345.60,610.83V597.80H1351.90V610.83ZM1351.90,610.83V603.10H1357.70V610.83ZM1357.70,610.83V605.50H1366.00V610.83Z" fill="#080e0d"/>
<path d="M1073.50,608.83L1192.00,608.80L1199.40,606.10L1213.30,600.60L1222.40,588.80L1230.00,584.60L1238.30,577.60L1246.00,588.80L1254.30,574.20L1262.60,570.00L1270.30,525.60L1277.20,467.90L1285.60,473.50L1293.90,494.30L1301.50,471.40L1309.90,481.80L1317.50,471.40L1325.10,543.60L1332.80,565.80L1341.60,562.10L1349.20,594.20L1356.80,606.30L1364.30,604.00L1371.50,603.10L1379.50,606.30L1385.00,608.80L1467.00,608.83" fill="none" stroke="#658abd" stroke-width="3.9" stroke-linejoin="round" stroke-linecap="butt"/>
<path d="M1073.50,608.83L1215.00,608.80L1221.70,606.10L1230.00,604.70L1238.30,597.10L1246.00,533.90L1254.30,533.90L1261.90,485.30L1270.30,476.90L1277.90,485.30L1285.60,451.30L1293.90,436.00L1300.80,506.10L1308.50,525.60L1316.80,538.80L1324.40,578.30L1332.40,579.00L1340.30,592.40L1347.80,596.00L1356.80,603.10L1364.80,599.10L1372.80,605.80L1380.80,606.30L1388.90,603.10L1396.90,603.10L1404.00,606.30L1410.00,608.80L1467.00,608.83" fill="none" stroke="#ef9045" stroke-width="3.9" stroke-linejoin="round" stroke-linecap="butt"/>
</g></svg>
<rect x="1076.5" y="357.83" width="387.5" height="251.0" fill="none" stroke="#000" stroke-width="3.33"/>
<line x1="1061.90" y1="608.83" x2="1076.50" y2="608.83" stroke="#000" stroke-width="3.33"/>
<line x1="1061.90" y1="546.08" x2="1076.50" y2="546.08" stroke="#000" stroke-width="3.33"/>
<line x1="1061.90" y1="483.33" x2="1076.50" y2="483.33" stroke="#000" stroke-width="3.33"/>
<line x1="1061.90" y1="420.58" x2="1076.50" y2="420.58" stroke="#000" stroke-width="3.33"/>
<line x1="1076.50" y1="608.83" x2="1076.50" y2="623.43" stroke="#000" stroke-width="3.33"/>
<line x1="1099.83" y1="608.83" x2="1099.83" y2="617.16" stroke="#000" stroke-width="2.5"/>
<line x1="1113.48" y1="608.83" x2="1113.48" y2="617.16" stroke="#000" stroke-width="2.5"/>
<line x1="1123.16" y1="608.83" x2="1123.16" y2="617.16" stroke="#000" stroke-width="2.5"/>
<line x1="1130.67" y1="608.83" x2="1130.67" y2="617.16" stroke="#000" stroke-width="2.5"/>
<line x1="1136.81" y1="608.83" x2="1136.81" y2="617.16" stroke="#000" stroke-width="2.5"/>
<line x1="1142.00" y1="608.83" x2="1142.00" y2="617.16" stroke="#000" stroke-width="2.5"/>
<line x1="1146.49" y1="608.83" x2="1146.49" y2="617.16" stroke="#000" stroke-width="2.5"/>
<line x1="1150.45" y1="608.83" x2="1150.45" y2="617.16" stroke="#000" stroke-width="2.5"/>
<line x1="1154.00" y1="608.83" x2="1154.00" y2="623.43" stroke="#000" stroke-width="3.33"/>
<line x1="1177.33" y1="608.83" x2="1177.33" y2="617.16" stroke="#000" stroke-width="2.5"/>
<line x1="1190.98" y1="608.83" x2="1190.98" y2="617.16" stroke="#000" stroke-width="2.5"/>
<line x1="1200.66" y1="608.83" x2="1200.66" y2="617.16" stroke="#000" stroke-width="2.5"/>
<line x1="1208.17" y1="608.83" x2="1208.17" y2="617.16" stroke="#000" stroke-width="2.5"/>
<line x1="1214.31" y1="608.83" x2="1214.31" y2="617.16" stroke="#000" stroke-width="2.5"/>
<line x1="1219.50" y1="608.83" x2="1219.50" y2="617.16" stroke="#000" stroke-width="2.5"/>
<line x1="1223.99" y1="608.83" x2="1223.99" y2="617.16" stroke="#000" stroke-width="2.5"/>
<line x1="1227.95" y1="608.83" x2="1227.95" y2="617.16" stroke="#000" stroke-width="2.5"/>
<line x1="1231.50" y1="608.83" x2="1231.50" y2="623.43" stroke="#000" stroke-width="3.33"/>
<line x1="1254.83" y1="608.83" x2="1254.83" y2="617.16" stroke="#000" stroke-width="2.5"/>
<line x1="1268.48" y1="608.83" x2="1268.48" y2="617.16" stroke="#000" stroke-width="2.5"/>
<line x1="1278.16" y1="608.83" x2="1278.16" y2="617.16" stroke="#000" stroke-width="2.5"/>
<line x1="1285.67" y1="608.83" x2="1285.67" y2="617.16" stroke="#000" stroke-width="2.5"/>
<line x1="1291.81" y1="608.83" x2="1291.81" y2="617.16" stroke="#000" stroke-width="2.5"/>
<line x1="1297.00" y1="608.83" x2="1297.00" y2="617.16" stroke="#000" stroke-width="2.5"/>
<line x1="1301.49" y1="608.83" x2="1301.49" y2="617.16" stroke="#000" stroke-width="2.5"/>
<line x1="1305.45" y1="608.83" x2="1305.45" y2="617.16" stroke="#000" stroke-width="2.5"/>
<line x1="1309.00" y1="608.83" x2="1309.00" y2="623.43" stroke="#000" stroke-width="3.33"/>
<line x1="1332.33" y1="608.83" x2="1332.33" y2="617.16" stroke="#000" stroke-width="2.5"/>
<line x1="1345.98" y1="608.83" x2="1345.98" y2="617.16" stroke="#000" stroke-width="2.5"/>
<line x1="1355.66" y1="608.83" x2="1355.66" y2="617.16" stroke="#000" stroke-width="2.5"/>
<line x1="1363.17" y1="608.83" x2="1363.17" y2="617.16" stroke="#000" stroke-width="2.5"/>
<line x1="1369.31" y1="608.83" x2="1369.31" y2="617.16" stroke="#000" stroke-width="2.5"/>
<line x1="1374.50" y1="608.83" x2="1374.50" y2="617.16" stroke="#000" stroke-width="2.5"/>
<line x1="1378.99" y1="608.83" x2="1378.99" y2="617.16" stroke="#000" stroke-width="2.5"/>
<line x1="1382.95" y1="608.83" x2="1382.95" y2="617.16" stroke="#000" stroke-width="2.5"/>
<line x1="1386.50" y1="608.83" x2="1386.50" y2="623.43" stroke="#000" stroke-width="3.33"/>
<line x1="1409.83" y1="608.83" x2="1409.83" y2="617.16" stroke="#000" stroke-width="2.5"/>
<line x1="1423.48" y1="608.83" x2="1423.48" y2="617.16" stroke="#000" stroke-width="2.5"/>
<line x1="1433.16" y1="608.83" x2="1433.16" y2="617.16" stroke="#000" stroke-width="2.5"/>
<line x1="1440.67" y1="608.83" x2="1440.67" y2="617.16" stroke="#000" stroke-width="2.5"/>
<line x1="1446.81" y1="608.83" x2="1446.81" y2="617.16" stroke="#000" stroke-width="2.5"/>
<line x1="1452.00" y1="608.83" x2="1452.00" y2="617.16" stroke="#000" stroke-width="2.5"/>
<line x1="1456.49" y1="608.83" x2="1456.49" y2="617.16" stroke="#000" stroke-width="2.5"/>
<line x1="1460.45" y1="608.83" x2="1460.45" y2="617.16" stroke="#000" stroke-width="2.5"/>
<line x1="1464.00" y1="608.83" x2="1464.00" y2="623.43" stroke="#000" stroke-width="3.33"/>
<svg x="611.5" y="659.17" width="387.5" height="251.0" overflow="hidden"><g transform="translate(-611.5,-659.17)">
<path d="M713.00,912.17V902.50H716.50V912.17ZM716.50,912.17V898.50H723.50V912.17ZM723.50,912.17V894.50H729.50V912.17ZM729.50,912.17V886.00H735.50V912.17ZM735.50,912.17V890.50H742.00V912.17ZM742.00,912.17V906.50H747.50V912.17Z" fill="#929590"/>
<path d="M750.50,912.17V906.00H762.00V912.17ZM762.00,912.17V898.50H769.00V912.17ZM769.00,912.17V894.00H776.00V912.17ZM776.00,912.17V882.00H782.00V912.17ZM782.00,912.17V871.60H791.20V912.17ZM791.20,912.17V851.10H797.20V912.17ZM797.20,912.17V822.60H803.80V912.17ZM803.80,912.17V783.00H812.40V912.17ZM812.40,912.17V764.40H819.70V912.17ZM819.70,912.17V777.00H827.60V912.17ZM827.60,912.17V784.90H834.30V912.17ZM834.30,912.17V796.80H840.90V912.17ZM840.90,912.17V784.90H847.50V912.17ZM847.50,912.17V792.90H853.50V912.17ZM853.50,912.17V881.50H860.70V912.17ZM860.70,912.17V863.00H867.30V912.17ZM867.30,912.17V851.10H873.97V912.17ZM873.97,912.17V885.50H880.60V912.17ZM880.60,912.17V895.40H887.20V912.17ZM887.20,912.17V902.00H893.80V912.17Z" fill="#080e0d"/>
<path d="M608.50,910.17L703.00,910.20L710.00,906.50L717.00,877.50L725.00,877.50L733.00,883.00L741.00,883.50L749.00,902.50L757.00,902.50L765.00,883.50L773.00,890.50L781.00,864.50L788.60,838.50L795.90,860.40L803.20,793.50L812.40,768.40L820.40,755.80L828.30,812.10L836.20,818.70L844.20,825.30L852.10,832.60L860.10,890.10L868.00,882.20L876.00,858.40L884.60,882.20L893.20,906.00L900.00,907.50L907.70,902.70L915.70,907.30L923.50,907.30L931.50,902.70L939.50,907.30L945.00,910.20L1002.00,910.17" fill="none" stroke="#658abd" stroke-width="3.9" stroke-linejoin="round" stroke-linecap="butt"/>
<path d="M608.50,910.17L718.00,910.20L725.00,908.00L733.50,895.50L741.00,908.00L764.00,908.00L773.00,896.00L780.00,892.10L789.30,883.50L796.50,865.00L804.50,825.30L812.40,732.60L820.40,805.40L828.30,758.50L836.20,771.70L844.20,745.90L852.10,792.20L859.40,843.20L868.00,851.10L876.00,875.00L883.90,896.80L891.80,896.80L899.10,908.00L938.80,908.00L946.80,902.10L954.70,908.00L960.00,910.20L1002.00,910.17" fill="none" stroke="#ef9045" stroke-width="3.9" stroke-linejoin="round" stroke-linecap="butt"/>
<line x1="749.0" y1="910.17" x2="749.0" y2="659.17" stroke="#078686" stroke-width="4.0" stroke-dasharray="15.4 6.7"/>
</g></svg>
<rect x="611.5" y="659.17" width="387.5" height="251.0" fill="none" stroke="#000" stroke-width="3.33"/>
<line x1="596.90" y1="910.17" x2="611.50" y2="910.17" stroke="#000" stroke-width="3.33"/>
<line x1="596.90" y1="847.42" x2="611.50" y2="847.42" stroke="#000" stroke-width="3.33"/>
<line x1="596.90" y1="784.67" x2="611.50" y2="784.67" stroke="#000" stroke-width="3.33"/>
<line x1="596.90" y1="721.92" x2="611.50" y2="721.92" stroke="#000" stroke-width="3.33"/>
<line x1="611.50" y1="910.17" x2="611.50" y2="924.77" stroke="#000" stroke-width="3.33"/>
<line x1="634.83" y1="910.17" x2="634.83" y2="918.50" stroke="#000" stroke-width="2.5"/>
<line x1="648.48" y1="910.17" x2="648.48" y2="918.50" stroke="#000" stroke-width="2.5"/>
<line x1="658.16" y1="910.17" x2="658.16" y2="918.50" stroke="#000" stroke-width="2.5"/>
<line x1="665.67" y1="910.17" x2="665.67" y2="918.50" stroke="#000" stroke-width="2.5"/>
<line x1="671.81" y1="910.17" x2="671.81" y2="918.50" stroke="#000" stroke-width="2.5"/>
<line x1="677.00" y1="910.17" x2="677.00" y2="918.50" stroke="#000" stroke-width="2.5"/>
<line x1="681.49" y1="910.17" x2="681.49" y2="918.50" stroke="#000" stroke-width="2.5"/>
<line x1="685.45" y1="910.17" x2="685.45" y2="918.50" stroke="#000" stroke-width="2.5"/>
<line x1="689.00" y1="910.17" x2="689.00" y2="924.77" stroke="#000" stroke-width="3.33"/>
<line x1="712.33" y1="910.17" x2="712.33" y2="918.50" stroke="#000" stroke-width="2.5"/>
<line x1="725.98" y1="910.17" x2="725.98" y2="918.50" stroke="#000" stroke-width="2.5"/>
<line x1="735.66" y1="910.17" x2="735.66" y2="918.50" stroke="#000" stroke-width="2.5"/>
<line x1="743.17" y1="910.17" x2="743.17" y2="918.50" stroke="#000" stroke-width="2.5"/>
<line x1="749.31" y1="910.17" x2="749.31" y2="918.50" stroke="#000" stroke-width="2.5"/>
<line x1="754.50" y1="910.17" x2="754.50" y2="918.50" stroke="#000" stroke-width="2.5"/>
<line x1="758.99" y1="910.17" x2="758.99" y2="918.50" stroke="#000" stroke-width="2.5"/>
<line x1="762.95" y1="910.17" x2="762.95" y2="918.50" stroke="#000" stroke-width="2.5"/>
<line x1="766.50" y1="910.17" x2="766.50" y2="924.77" stroke="#000" stroke-width="3.33"/>
<line x1="789.83" y1="910.17" x2="789.83" y2="918.50" stroke="#000" stroke-width="2.5"/>
<line x1="803.48" y1="910.17" x2="803.48" y2="918.50" stroke="#000" stroke-width="2.5"/>
<line x1="813.16" y1="910.17" x2="813.16" y2="918.50" stroke="#000" stroke-width="2.5"/>
<line x1="820.67" y1="910.17" x2="820.67" y2="918.50" stroke="#000" stroke-width="2.5"/>
<line x1="826.81" y1="910.17" x2="826.81" y2="918.50" stroke="#000" stroke-width="2.5"/>
<line x1="832.00" y1="910.17" x2="832.00" y2="918.50" stroke="#000" stroke-width="2.5"/>
<line x1="836.49" y1="910.17" x2="836.49" y2="918.50" stroke="#000" stroke-width="2.5"/>
<line x1="840.45" y1="910.17" x2="840.45" y2="918.50" stroke="#000" stroke-width="2.5"/>
<line x1="844.00" y1="910.17" x2="844.00" y2="924.77" stroke="#000" stroke-width="3.33"/>
<line x1="867.33" y1="910.17" x2="867.33" y2="918.50" stroke="#000" stroke-width="2.5"/>
<line x1="880.98" y1="910.17" x2="880.98" y2="918.50" stroke="#000" stroke-width="2.5"/>
<line x1="890.66" y1="910.17" x2="890.66" y2="918.50" stroke="#000" stroke-width="2.5"/>
<line x1="898.17" y1="910.17" x2="898.17" y2="918.50" stroke="#000" stroke-width="2.5"/>
<line x1="904.31" y1="910.17" x2="904.31" y2="918.50" stroke="#000" stroke-width="2.5"/>
<line x1="909.50" y1="910.17" x2="909.50" y2="918.50" stroke="#000" stroke-width="2.5"/>
<line x1="913.99" y1="910.17" x2="913.99" y2="918.50" stroke="#000" stroke-width="2.5"/>
<line x1="917.95" y1="910.17" x2="917.95" y2="918.50" stroke="#000" stroke-width="2.5"/>
<line x1="921.50" y1="910.17" x2="921.50" y2="924.77" stroke="#000" stroke-width="3.33"/>
<line x1="944.83" y1="910.17" x2="944.83" y2="918.50" stroke="#000" stroke-width="2.5"/>
<line x1="958.48" y1="910.17" x2="958.48" y2="918.50" stroke="#000" stroke-width="2.5"/>
<line x1="968.16" y1="910.17" x2="968.16" y2="918.50" stroke="#000" stroke-width="2.5"/>
<line x1="975.67" y1="910.17" x2="975.67" y2="918.50" stroke="#000" stroke-width="2.5"/>
<line x1="981.81" y1="910.17" x2="981.81" y2="918.50" stroke="#000" stroke-width="2.5"/>
<line x1="987.00" y1="910.17" x2="987.00" y2="918.50" stroke="#000" stroke-width="2.5"/>
<line x1="991.49" y1="910.17" x2="991.49" y2="918.50" stroke="#000" stroke-width="2.5"/>
<line x1="995.45" y1="910.17" x2="995.45" y2="918.50" stroke="#000" stroke-width="2.5"/>
<line x1="999.00" y1="910.17" x2="999.00" y2="924.77" stroke="#000" stroke-width="3.33"/>
<svg x="1076.5" y="659.17" width="387.5" height="251.0" overflow="hidden"><g transform="translate(-1076.5,-659.17)">
<path d="M1233.70,912.17V904.70H1240.40V912.17ZM1240.40,912.17V868.30H1247.00V912.17ZM1247.00,912.17V880.90H1254.30V912.17ZM1254.30,912.17V862.30H1260.90V912.17ZM1260.90,912.17V846.50H1266.80V912.17ZM1266.80,912.17V849.10H1273.50V912.17ZM1273.50,912.17V824.60H1280.10V912.17ZM1280.10,912.17V792.20H1286.70V912.17ZM1286.70,912.17V775.00H1293.30V912.17ZM1293.30,912.17V810.70H1300.60V912.17ZM1300.60,912.17V761.10H1306.50V912.17ZM1306.50,912.17V768.40H1313.20V912.17ZM1313.20,912.17V785.60H1319.10V912.17ZM1319.10,912.17V822.60H1325.70V912.17ZM1325.70,912.17V835.20H1332.30V912.17ZM1332.30,912.17V839.80H1339.00V912.17ZM1339.00,912.17V851.10H1345.60V912.17ZM1345.60,912.17V879.60H1352.20V912.17ZM1352.20,912.17V886.20H1358.80V912.17ZM1358.80,912.17V902.00H1365.40V912.17ZM1365.40,912.17V894.30H1371.80V912.17ZM1371.80,912.17V905.00H1378.00V912.17Z" fill="#080e0d"/>
<path d="M1073.50,910.17L1225.00,910.20L1231.80,908.00L1239.00,895.40L1246.30,906.00L1254.30,896.10L1261.50,895.40L1268.80,861.00L1278.70,843.20L1285.40,794.20L1294.00,796.80L1300.60,782.90L1309.60,711.90L1316.50,761.80L1325.70,790.20L1333.70,834.60L1341.00,822.00L1348.90,880.20L1356.80,883.50L1364.80,890.10L1372.00,899.50L1380.30,902.70L1385.20,906.60L1397.00,907.70L1402.00,910.20L1467.00,910.17" fill="none" stroke="#658abd" stroke-width="3.9" stroke-linejoin="round" stroke-linecap="butt"/>
<path d="M1073.50,910.17L1195.00,910.20L1200.00,908.00L1207.30,907.30L1214.60,904.70L1222.50,907.30L1229.80,904.70L1238.40,892.80L1245.70,847.10L1253.60,835.20L1261.50,793.50L1270.10,810.70L1278.10,789.60L1286.00,777.00L1294.00,772.40L1301.90,781.00L1308.50,829.30L1316.50,834.60L1324.40,846.50L1332.30,874.30L1341.00,880.90L1348.90,876.20L1356.80,900.70L1364.90,906.60L1372.60,901.30L1380.30,906.60L1388.00,904.50L1396.40,904.50L1403.40,908.00L1408.00,910.20L1467.00,910.17" fill="none" stroke="#ef9045" stroke-width="3.9" stroke-linejoin="round" stroke-linecap="butt"/>
</g></svg>
<rect x="1076.5" y="659.17" width="387.5" height="251.0" fill="none" stroke="#000" stroke-width="3.33"/>
<line x1="1061.90" y1="910.17" x2="1076.50" y2="910.17" stroke="#000" stroke-width="3.33"/>
<line x1="1061.90" y1="847.42" x2="1076.50" y2="847.42" stroke="#000" stroke-width="3.33"/>
<line x1="1061.90" y1="784.67" x2="1076.50" y2="784.67" stroke="#000" stroke-width="3.33"/>
<line x1="1061.90" y1="721.92" x2="1076.50" y2="721.92" stroke="#000" stroke-width="3.33"/>
<line x1="1076.50" y1="910.17" x2="1076.50" y2="924.77" stroke="#000" stroke-width="3.33"/>
<line x1="1099.83" y1="910.17" x2="1099.83" y2="918.50" stroke="#000" stroke-width="2.5"/>
<line x1="1113.48" y1="910.17" x2="1113.48" y2="918.50" stroke="#000" stroke-width="2.5"/>
<line x1="1123.16" y1="910.17" x2="1123.16" y2="918.50" stroke="#000" stroke-width="2.5"/>
<line x1="1130.67" y1="910.17" x2="1130.67" y2="918.50" stroke="#000" stroke-width="2.5"/>
<line x1="1136.81" y1="910.17" x2="1136.81" y2="918.50" stroke="#000" stroke-width="2.5"/>
<line x1="1142.00" y1="910.17" x2="1142.00" y2="918.50" stroke="#000" stroke-width="2.5"/>
<line x1="1146.49" y1="910.17" x2="1146.49" y2="918.50" stroke="#000" stroke-width="2.5"/>
<line x1="1150.45" y1="910.17" x2="1150.45" y2="918.50" stroke="#000" stroke-width="2.5"/>
<line x1="1154.00" y1="910.17" x2="1154.00" y2="924.77" stroke="#000" stroke-width="3.33"/>
<line x1="1177.33" y1="910.17" x2="1177.33" y2="918.50" stroke="#000" stroke-width="2.5"/>
<line x1="1190.98" y1="910.17" x2="1190.98" y2="918.50" stroke="#000" stroke-width="2.5"/>
<line x1="1200.66" y1="910.17" x2="1200.66" y2="918.50" stroke="#000" stroke-width="2.5"/>
<line x1="1208.17" y1="910.17" x2="1208.17" y2="918.50" stroke="#000" stroke-width="2.5"/>
<line x1="1214.31" y1="910.17" x2="1214.31" y2="918.50" stroke="#000" stroke-width="2.5"/>
<line x1="1219.50" y1="910.17" x2="1219.50" y2="918.50" stroke="#000" stroke-width="2.5"/>
<line x1="1223.99" y1="910.17" x2="1223.99" y2="918.50" stroke="#000" stroke-width="2.5"/>
<line x1="1227.95" y1="910.17" x2="1227.95" y2="918.50" stroke="#000" stroke-width="2.5"/>
<line x1="1231.50" y1="910.17" x2="1231.50" y2="924.77" stroke="#000" stroke-width="3.33"/>
<line x1="1254.83" y1="910.17" x2="1254.83" y2="918.50" stroke="#000" stroke-width="2.5"/>
<line x1="1268.48" y1="910.17" x2="1268.48" y2="918.50" stroke="#000" stroke-width="2.5"/>
<line x1="1278.16" y1="910.17" x2="1278.16" y2="918.50" stroke="#000" stroke-width="2.5"/>
<line x1="1285.67" y1="910.17" x2="1285.67" y2="918.50" stroke="#000" stroke-width="2.5"/>
<line x1="1291.81" y1="910.17" x2="1291.81" y2="918.50" stroke="#000" stroke-width="2.5"/>
<line x1="1297.00" y1="910.17" x2="1297.00" y2="918.50" stroke="#000" stroke-width="2.5"/>
<line x1="1301.49" y1="910.17" x2="1301.49" y2="918.50" stroke="#000" stroke-width="2.5"/>
<line x1="1305.45" y1="910.17" x2="1305.45" y2="918.50" stroke="#000" stroke-width="2.5"/>
<line x1="1309.00" y1="910.17" x2="1309.00" y2="924.77" stroke="#000" stroke-width="3.33"/>
<line x1="1332.33" y1="910.17" x2="1332.33" y2="918.50" stroke="#000" stroke-width="2.5"/>
<line x1="1345.98" y1="910.17" x2="1345.98" y2="918.50" stroke="#000" stroke-width="2.5"/>
<line x1="1355.66" y1="910.17" x2="1355.66" y2="918.50" stroke="#000" stroke-width="2.5"/>
<line x1="1363.17" y1="910.17" x2="1363.17" y2="918.50" stroke="#000" stroke-width="2.5"/>
<line x1="1369.31" y1="910.17" x2="1369.31" y2="918.50" stroke="#000" stroke-width="2.5"/>
<line x1="1374.50" y1="910.17" x2="1374.50" y2="918.50" stroke="#000" stroke-width="2.5"/>
<line x1="1378.99" y1="910.17" x2="1378.99" y2="918.50" stroke="#000" stroke-width="2.5"/>
<line x1="1382.95" y1="910.17" x2="1382.95" y2="918.50" stroke="#000" stroke-width="2.5"/>
<line x1="1386.50" y1="910.17" x2="1386.50" y2="924.77" stroke="#000" stroke-width="3.33"/>
<line x1="1409.83" y1="910.17" x2="1409.83" y2="918.50" stroke="#000" stroke-width="2.5"/>
<line x1="1423.48" y1="910.17" x2="1423.48" y2="918.50" stroke="#000" stroke-width="2.5"/>
<line x1="1433.16" y1="910.17" x2="1433.16" y2="918.50" stroke="#000" stroke-width="2.5"/>
<line x1="1440.67" y1="910.17" x2="1440.67" y2="918.50" stroke="#000" stroke-width="2.5"/>
<line x1="1446.81" y1="910.17" x2="1446.81" y2="918.50" stroke="#000" stroke-width="2.5"/>
<line x1="1452.00" y1="910.17" x2="1452.00" y2="918.50" stroke="#000" stroke-width="2.5"/>
<line x1="1456.49" y1="910.17" x2="1456.49" y2="918.50" stroke="#000" stroke-width="2.5"/>
<line x1="1460.45" y1="910.17" x2="1460.45" y2="918.50" stroke="#000" stroke-width="2.5"/>
<line x1="1464.00" y1="910.17" x2="1464.00" y2="924.77" stroke="#000" stroke-width="3.33"/>
<svg x="611.5" y="960.5" width="387.5" height="251.0" overflow="hidden"><g transform="translate(-611.5,-960.5)">
<path d="M700.00,1213.50V1208.00H710.00V1213.50ZM710.00,1213.50V1209.00H716.50V1213.50ZM716.50,1213.50V1195.50H723.00V1213.50ZM723.00,1213.50V1177.50H729.00V1213.50ZM729.00,1213.50V1184.50H735.50V1213.50ZM735.50,1213.50V1195.00H742.00V1213.50ZM742.00,1213.50V1168.50H749.00V1213.50ZM749.00,1213.50V1179.50H756.00V1213.50Z" fill="#929590"/>
<path d="M755.90,1213.50V1184.70H762.50V1213.50ZM762.50,1213.50V1170.70H769.10V1213.50ZM769.10,1213.50V1135.00H775.70V1213.50ZM775.70,1213.50V1100.30H782.30V1213.50ZM782.30,1213.50V1098.00H788.90V1213.50ZM788.90,1213.50V1070.20H795.50V1213.50ZM795.50,1213.50V1056.20H801.40V1213.50ZM801.40,1213.50V1061.40H808.00V1213.50ZM808.00,1213.50V1111.30H814.60V1213.50ZM814.60,1213.50V1102.50H821.20V1213.50ZM821.20,1213.50V1104.00H827.80V1213.50ZM827.80,1213.50V1136.20H834.40V1213.50ZM834.40,1213.50V1175.10H840.30V1213.50ZM840.30,1213.50V1184.70H846.90V1213.50ZM846.90,1213.50V1192.00H853.50V1213.50ZM853.50,1213.50V1200.80H860.10V1213.50ZM860.10,1213.50V1197.90H866.70V1213.50ZM866.70,1213.50V1208.20H873.30V1213.50Z" fill="#080e0d"/>
<path d="M608.50,1211.50L680.00,1211.50L686.00,1209.00L701.50,1201.50L710.00,1204.50L717.00,1177.00L725.50,1160.00L733.50,1165.00L741.00,1151.50L749.00,1143.00L758.10,1171.50L764.00,1153.00L772.00,1137.70L780.80,1079.70L788.90,1105.40L797.00,1054.00L805.00,1080.50L812.40,1111.30L820.50,1156.00L828.50,1151.70L836.60,1193.50L844.00,1189.80L852.80,1197.90L860.10,1198.60L867.40,1207.40L875.50,1208.00L883.60,1206.00L890.90,1209.60L896.00,1211.50L1002.00,1211.50" fill="none" stroke="#658abd" stroke-width="3.9" stroke-linejoin="round" stroke-linecap="butt"/>
<path d="M608.50,1211.50L688.00,1211.50L694.00,1208.50L701.50,1204.50L709.00,1204.50L717.00,1209.00L725.00,1209.00L733.50,1199.50L741.00,1204.50L749.00,1205.00L757.00,1204.50L764.70,1205.20L772.80,1137.70L780.80,1106.10L788.90,1099.50L797.00,1025.40L805.00,1036.40L812.40,1106.10L820.50,1036.40L828.50,1098.00L836.60,1161.20L844.70,1179.50L852.80,1189.10L860.10,1189.10L867.40,1207.40L875.50,1200.00L883.60,1208.90L890.00,1211.50L1002.00,1211.50" fill="none" stroke="#ef9045" stroke-width="3.9" stroke-linejoin="round" stroke-linecap="butt"/>
<line x1="758.1" y1="1211.5" x2="758.1" y2="960.5" stroke="#078686" stroke-width="4.0" stroke-dasharray="15.4 6.7"/>
</g></svg>
<rect x="611.5" y="960.5" width="387.5" height="251.0" fill="none" stroke="#000" stroke-width="3.33"/>
<line x1="596.90" y1="1211.50" x2="611.50" y2="1211.50" stroke="#000" stroke-width="3.33"/>
<line x1="596.90" y1="1148.75" x2="611.50" y2="1148.75" stroke="#000" stroke-width="3.33"/>
<line x1="596.90" y1="1086.00" x2="611.50" y2="1086.00" stroke="#000" stroke-width="3.33"/>
<line x1="596.90" y1="1023.25" x2="611.50" y2="1023.25" stroke="#000" stroke-width="3.33"/>
<line x1="611.50" y1="1211.50" x2="611.50" y2="1226.10" stroke="#000" stroke-width="3.33"/>
<line x1="634.83" y1="1211.50" x2="634.83" y2="1219.83" stroke="#000" stroke-width="2.5"/>
<line x1="648.48" y1="1211.50" x2="648.48" y2="1219.83" stroke="#000" stroke-width="2.5"/>
<line x1="658.16" y1="1211.50" x2="658.16" y2="1219.83" stroke="#000" stroke-width="2.5"/>
<line x1="665.67" y1="1211.50" x2="665.67" y2="1219.83" stroke="#000" stroke-width="2.5"/>
<line x1="671.81" y1="1211.50" x2="671.81" y2="1219.83" stroke="#000" stroke-width="2.5"/>
<line x1="677.00" y1="1211.50" x2="677.00" y2="1219.83" stroke="#000" stroke-width="2.5"/>
<line x1="681.49" y1="1211.50" x2="681.49" y2="1219.83" stroke="#000" stroke-width="2.5"/>
<line x1="685.45" y1="1211.50" x2="685.45" y2="1219.83" stroke="#000" stroke-width="2.5"/>
<line x1="689.00" y1="1211.50" x2="689.00" y2="1226.10" stroke="#000" stroke-width="3.33"/>
<line x1="712.33" y1="1211.50" x2="712.33" y2="1219.83" stroke="#000" stroke-width="2.5"/>
<line x1="725.98" y1="1211.50" x2="725.98" y2="1219.83" stroke="#000" stroke-width="2.5"/>
<line x1="735.66" y1="1211.50" x2="735.66" y2="1219.83" stroke="#000" stroke-width="2.5"/>
<line x1="743.17" y1="1211.50" x2="743.17" y2="1219.83" stroke="#000" stroke-width="2.5"/>
<line x1="749.31" y1="1211.50" x2="749.31" y2="1219.83" stroke="#000" stroke-width="2.5"/>
<line x1="754.50" y1="1211.50" x2="754.50" y2="1219.83" stroke="#000" stroke-width="2.5"/>
<line x1="758.99" y1="1211.50" x2="758.99" y2="1219.83" stroke="#000" stroke-width="2.5"/>
<line x1="762.95" y1="1211.50" x2="762.95" y2="1219.83" stroke="#000" stroke-width="2.5"/>
<line x1="766.50" y1="1211.50" x2="766.50" y2="1226.10" stroke="#000" stroke-width="3.33"/>
<line x1="789.83" y1="1211.50" x2="789.83" y2="1219.83" stroke="#000" stroke-width="2.5"/>
<line x1="803.48" y1="1211.50" x2="803.48" y2="1219.83" stroke="#000" stroke-width="2.5"/>
<line x1="813.16" y1="1211.50" x2="813.16" y2="1219.83" stroke="#000" stroke-width="2.5"/>
<line x1="820.67" y1="1211.50" x2="820.67" y2="1219.83" stroke="#000" stroke-width="2.5"/>
<line x1="826.81" y1="1211.50" x2="826.81" y2="1219.83" stroke="#000" stroke-width="2.5"/>
<line x1="832.00" y1="1211.50" x2="832.00" y2="1219.83" stroke="#000" stroke-width="2.5"/>
<line x1="836.49" y1="1211.50" x2="836.49" y2="1219.83" stroke="#000" stroke-width="2.5"/>
<line x1="840.45" y1="1211.50" x2="840.45" y2="1219.83" stroke="#000" stroke-width="2.5"/>
<line x1="844.00" y1="1211.50" x2="844.00" y2="1226.10" stroke="#000" stroke-width="3.33"/>
<line x1="867.33" y1="1211.50" x2="867.33" y2="1219.83" stroke="#000" stroke-width="2.5"/>
<line x1="880.98" y1="1211.50" x2="880.98" y2="1219.83" stroke="#000" stroke-width="2.5"/>
<line x1="890.66" y1="1211.50" x2="890.66" y2="1219.83" stroke="#000" stroke-width="2.5"/>
<line x1="898.17" y1="1211.50" x2="898.17" y2="1219.83" stroke="#000" stroke-width="2.5"/>
<line x1="904.31" y1="1211.50" x2="904.31" y2="1219.83" stroke="#000" stroke-width="2.5"/>
<line x1="909.50" y1="1211.50" x2="909.50" y2="1219.83" stroke="#000" stroke-width="2.5"/>
<line x1="913.99" y1="1211.50" x2="913.99" y2="1219.83" stroke="#000" stroke-width="2.5"/>
<line x1="917.95" y1="1211.50" x2="917.95" y2="1219.83" stroke="#000" stroke-width="2.5"/>
<line x1="921.50" y1="1211.50" x2="921.50" y2="1226.10" stroke="#000" stroke-width="3.33"/>
<line x1="944.83" y1="1211.50" x2="944.83" y2="1219.83" stroke="#000" stroke-width="2.5"/>
<line x1="958.48" y1="1211.50" x2="958.48" y2="1219.83" stroke="#000" stroke-width="2.5"/>
<line x1="968.16" y1="1211.50" x2="968.16" y2="1219.83" stroke="#000" stroke-width="2.5"/>
<line x1="975.67" y1="1211.50" x2="975.67" y2="1219.83" stroke="#000" stroke-width="2.5"/>
<line x1="981.81" y1="1211.50" x2="981.81" y2="1219.83" stroke="#000" stroke-width="2.5"/>
<line x1="987.00" y1="1211.50" x2="987.00" y2="1219.83" stroke="#000" stroke-width="2.5"/>
<line x1="991.49" y1="1211.50" x2="991.49" y2="1219.83" stroke="#000" stroke-width="2.5"/>
<line x1="995.45" y1="1211.50" x2="995.45" y2="1219.83" stroke="#000" stroke-width="2.5"/>
<line x1="999.00" y1="1211.50" x2="999.00" y2="1226.10" stroke="#000" stroke-width="3.33"/>
<svg x="1076.5" y="960.5" width="387.5" height="251.0" overflow="hidden"><g transform="translate(-1076.5,-960.5)">
<path d="M1227.20,1213.50V1195.80H1234.20V1213.50ZM1234.20,1213.50V1194.40H1241.20V1213.50ZM1241.20,1213.50V1191.60H1247.40V1213.50ZM1247.40,1213.50V1176.30H1254.40V1213.50ZM1254.40,1213.50V1158.10H1260.70V1213.50ZM1260.70,1213.50V1127.40H1267.70V1213.50ZM1267.70,1213.50V1111.40H1273.90V1213.50ZM1273.90,1213.50V1081.40H1280.20V1213.50ZM1280.20,1213.50V1055.60H1286.50V1213.50ZM1286.50,1213.50V1067.40H1292.80V1213.50ZM1292.80,1213.50V1073.70H1299.80V1213.50ZM1299.80,1213.50V1055.60H1306.00V1213.50ZM1306.00,1213.50V1083.50H1313.00V1213.50ZM1313.00,1213.50V1102.30H1319.30V1213.50ZM1319.30,1213.50V1138.60H1326.30V1213.50ZM1326.30,1213.50V1163.70H1331.90V1213.50ZM1331.90,1213.50V1179.00H1339.50V1213.50ZM1339.50,1213.50V1192.00H1345.80V1213.50ZM1345.80,1213.50V1200.00H1352.10V1213.50ZM1352.10,1213.50V1207.00H1357.70V1213.50Z" fill="#080e0d"/>
<path d="M1073.50,1211.50L1200.00,1211.50L1207.00,1209.10L1214.00,1207.00L1222.30,1209.10L1230.70,1195.10L1238.40,1196.50L1246.00,1187.40L1255.10,1181.90L1261.40,1168.60L1269.80,1124.60L1278.10,1087.00L1285.80,1059.10L1293.50,1070.20L1301.90,1037.40L1310.20,1074.40L1317.90,1075.10L1325.60,1140.00L1333.90,1177.70L1341.00,1192.50L1349.10,1198.10L1357.40,1205.10L1364.80,1205.10L1379.70,1208.80L1384.00,1211.50L1467.00,1211.50" fill="none" stroke="#658abd" stroke-width="3.9" stroke-linejoin="round" stroke-linecap="butt"/>
<path d="M1073.50,1211.50L1215.00,1211.50L1222.30,1209.10L1230.70,1192.30L1238.40,1192.30L1246.00,1159.50L1253.70,1142.10L1261.40,1054.90L1269.80,1081.40L1277.40,1068.80L1285.80,1077.20L1294.20,1059.80L1302.60,1087.00L1309.50,1135.10L1317.20,1150.50L1325.60,1177.70L1333.90,1187.40L1341.20,1182.80L1348.30,1201.40L1356.60,1208.80L1380.60,1208.80L1388.80,1205.10L1396.30,1205.10L1404.60,1208.80L1410.00,1211.50L1467.00,1211.50" fill="none" stroke="#ef9045" stroke-width="3.9" stroke-linejoin="round" stroke-linecap="butt"/>
</g></svg>
<rect x="1076.5" y="960.5" width="387.5" height="251.0" fill="none" stroke="#000" stroke-width="3.33"/>
<line x1="1061.90" y1="1211.50" x2="1076.50" y2="1211.50" stroke="#000" stroke-width="3.33"/>
<line x1="1061.90" y1="1148.75" x2="1076.50" y2="1148.75" stroke="#000" stroke-width="3.33"/>
<line x1="1061.90" y1="1086.00" x2="1076.50" y2="1086.00" stroke="#000" stroke-width="3.33"/>
<line x1="1061.90" y1="1023.25" x2="1076.50" y2="1023.25" stroke="#000" stroke-width="3.33"/>
<line x1="1076.50" y1="1211.50" x2="1076.50" y2="1226.10" stroke="#000" stroke-width="3.33"/>
<line x1="1099.83" y1="1211.50" x2="1099.83" y2="1219.83" stroke="#000" stroke-width="2.5"/>
<line x1="1113.48" y1="1211.50" x2="1113.48" y2="1219.83" stroke="#000" stroke-width="2.5"/>
<line x1="1123.16" y1="1211.50" x2="1123.16" y2="1219.83" stroke="#000" stroke-width="2.5"/>
<line x1="1130.67" y1="1211.50" x2="1130.67" y2="1219.83" stroke="#000" stroke-width="2.5"/>
<line x1="1136.81" y1="1211.50" x2="1136.81" y2="1219.83" stroke="#000" stroke-width="2.5"/>
<line x1="1142.00" y1="1211.50" x2="1142.00" y2="1219.83" stroke="#000" stroke-width="2.5"/>
<line x1="1146.49" y1="1211.50" x2="1146.49" y2="1219.83" stroke="#000" stroke-width="2.5"/>
<line x1="1150.45" y1="1211.50" x2="1150.45" y2="1219.83" stroke="#000" stroke-width="2.5"/>
<line x1="1154.00" y1="1211.50" x2="1154.00" y2="1226.10" stroke="#000" stroke-width="3.33"/>
<line x1="1177.33" y1="1211.50" x2="1177.33" y2="1219.83" stroke="#000" stroke-width="2.5"/>
<line x1="1190.98" y1="1211.50" x2="1190.98" y2="1219.83" stroke="#000" stroke-width="2.5"/>
<line x1="1200.66" y1="1211.50" x2="1200.66" y2="1219.83" stroke="#000" stroke-width="2.5"/>
<line x1="1208.17" y1="1211.50" x2="1208.17" y2="1219.83" stroke="#000" stroke-width="2.5"/>
<line x1="1214.31" y1="1211.50" x2="1214.31" y2="1219.83" stroke="#000" stroke-width="2.5"/>
<line x1="1219.50" y1="1211.50" x2="1219.50" y2="1219.83" stroke="#000" stroke-width="2.5"/>
<line x1="1223.99" y1="1211.50" x2="1223.99" y2="1219.83" stroke="#000" stroke-width="2.5"/>
<line x1="1227.95" y1="1211.50" x2="1227.95" y2="1219.83" stroke="#000" stroke-width="2.5"/>
<line x1="1231.50" y1="1211.50" x2="1231.50" y2="1226.10" stroke="#000" stroke-width="3.33"/>
<line x1="1254.83" y1="1211.50" x2="1254.83" y2="1219.83" stroke="#000" stroke-width="2.5"/>
<line x1="1268.48" y1="1211.50" x2="1268.48" y2="1219.83" stroke="#000" stroke-width="2.5"/>
<line x1="1278.16" y1="1211.50" x2="1278.16" y2="1219.83" stroke="#000" stroke-width="2.5"/>
<line x1="1285.67" y1="1211.50" x2="1285.67" y2="1219.83" stroke="#000" stroke-width="2.5"/>
<line x1="1291.81" y1="1211.50" x2="1291.81" y2="1219.83" stroke="#000" stroke-width="2.5"/>
<line x1="1297.00" y1="1211.50" x2="1297.00" y2="1219.83" stroke="#000" stroke-width="2.5"/>
<line x1="1301.49" y1="1211.50" x2="1301.49" y2="1219.83" stroke="#000" stroke-width="2.5"/>
<line x1="1305.45" y1="1211.50" x2="1305.45" y2="1219.83" stroke="#000" stroke-width="2.5"/>
<line x1="1309.00" y1="1211.50" x2="1309.00" y2="1226.10" stroke="#000" stroke-width="3.33"/>
<line x1="1332.33" y1="1211.50" x2="1332.33" y2="1219.83" stroke="#000" stroke-width="2.5"/>
<line x1="1345.98" y1="1211.50" x2="1345.98" y2="1219.83" stroke="#000" stroke-width="2.5"/>
<line x1="1355.66" y1="1211.50" x2="1355.66" y2="1219.83" stroke="#000" stroke-width="2.5"/>
<line x1="1363.17" y1="1211.50" x2="1363.17" y2="1219.83" stroke="#000" stroke-width="2.5"/>
<line x1="1369.31" y1="1211.50" x2="1369.31" y2="1219.83" stroke="#000" stroke-width="2.5"/>
<line x1="1374.50" y1="1211.50" x2="1374.50" y2="1219.83" stroke="#000" stroke-width="2.5"/>
<line x1="1378.99" y1="1211.50" x2="1378.99" y2="1219.83" stroke="#000" stroke-width="2.5"/>
<line x1="1382.95" y1="1211.50" x2="1382.95" y2="1219.83" stroke="#000" stroke-width="2.5"/>
<line x1="1386.50" y1="1211.50" x2="1386.50" y2="1226.10" stroke="#000" stroke-width="3.33"/>
<line x1="1409.83" y1="1211.50" x2="1409.83" y2="1219.83" stroke="#000" stroke-width="2.5"/>
<line x1="1423.48" y1="1211.50" x2="1423.48" y2="1219.83" stroke="#000" stroke-width="2.5"/>
<line x1="1433.16" y1="1211.50" x2="1433.16" y2="1219.83" stroke="#000" stroke-width="2.5"/>
<line x1="1440.67" y1="1211.50" x2="1440.67" y2="1219.83" stroke="#000" stroke-width="2.5"/>
<line x1="1446.81" y1="1211.50" x2="1446.81" y2="1219.83" stroke="#000" stroke-width="2.5"/>
<line x1="1452.00" y1="1211.50" x2="1452.00" y2="1219.83" stroke="#000" stroke-width="2.5"/>
<line x1="1456.49" y1="1211.50" x2="1456.49" y2="1219.83" stroke="#000" stroke-width="2.5"/>
<line x1="1460.45" y1="1211.50" x2="1460.45" y2="1219.83" stroke="#000" stroke-width="2.5"/>
<line x1="1464.00" y1="1211.50" x2="1464.00" y2="1226.10" stroke="#000" stroke-width="3.33"/>
<text x="115.00" y="323.00" font-size="45.8" text-anchor="end">0.0</text>
<text x="115.00" y="260.25" font-size="45.8" text-anchor="end">0.5</text>
<text x="115.00" y="197.50" font-size="45.8" text-anchor="end">1.0</text>
<text x="115.00" y="134.75" font-size="45.8" text-anchor="end">1.5</text>
<text x="115.00" y="624.33" font-size="45.8" text-anchor="end">0.0</text>
<text x="115.00" y="561.58" font-size="45.8" text-anchor="end">0.5</text>
<text x="115.00" y="498.83" font-size="45.8" text-anchor="end">1.0</text>
<text x="115.00" y="436.08" font-size="45.8" text-anchor="end">1.5</text>
<text x="580.00" y="925.67" font-size="45.8" text-anchor="end">0.0</text>
<text x="580.00" y="862.92" font-size="45.8" text-anchor="end">0.5</text>
<text x="580.00" y="800.17" font-size="45.8" text-anchor="end">1.0</text>
<text x="580.00" y="737.42" font-size="45.8" text-anchor="end">1.5</text>
<text x="580.00" y="1227.00" font-size="45.8" text-anchor="end">0.0</text>
<text x="580.00" y="1164.25" font-size="45.8" text-anchor="end">0.5</text>
<text x="580.00" y="1101.50" font-size="45.8" text-anchor="end">1.0</text>
<text x="580.00" y="1038.75" font-size="45.8" text-anchor="end">1.5</text>
<text x="340.25" y="30.6" font-size="45.8" text-anchor="middle">2-3 nm</text>
<text x="805.25" y="30.6" font-size="45.8" text-anchor="middle">3-7 nm</text>
<text x="1270.25" y="30.6" font-size="45.8" text-anchor="middle">7-20 nm</text>
<text x="154.50" y="92.50" font-size="45.8">a</text>
<text x="529.50" y="84.00" font-size="37.6" text-anchor="end">1.9 nm/h</text>
<text x="529.50" y="121.80" font-size="37.6" text-anchor="end" fill="#078686">0.2 nm/h</text>
<text x="619.50" y="92.50" font-size="45.8">b</text>
<text x="994.50" y="84.00" font-size="37.6" text-anchor="end">3.3 nm/h</text>
<text x="994.50" y="121.80" font-size="37.6" text-anchor="end" fill="#078686">0.8 nm/h</text>
<text x="1084.50" y="92.50" font-size="45.8">c</text>
<text x="1459.50" y="84.00" font-size="37.6" text-anchor="end">5.4 nm/h</text>
<text x="154.50" y="393.83" font-size="45.8">d</text>
<text x="529.50" y="385.33" font-size="37.6" text-anchor="end">1.9 nm/h</text>
<text x="529.50" y="423.13" font-size="37.6" text-anchor="end" fill="#078686">0.3 nm/h</text>
<text x="619.50" y="393.83" font-size="45.8">e</text>
<text x="994.50" y="385.33" font-size="37.6" text-anchor="end">3.3 nm/h</text>
<text x="994.50" y="423.13" font-size="37.6" text-anchor="end" fill="#078686">0.6 nm/h</text>
<text x="1084.50" y="393.83" font-size="45.8">f</text>
<text x="1459.50" y="385.33" font-size="37.6" text-anchor="end">5.3 nm/h</text>
<text x="619.50" y="695.17" font-size="45.8">g</text>
<text x="994.50" y="686.67" font-size="37.6" text-anchor="end">5.8 nm/h</text>
<text x="994.50" y="724.47" font-size="37.6" text-anchor="end" fill="#078686">0.6 nm/h</text>
<text x="1084.50" y="695.17" font-size="45.8">h</text>
<text x="1459.50" y="686.67" font-size="37.6" text-anchor="end">7.9 nm/h</text>
<text x="619.50" y="996.50" font-size="45.8">i</text>
<text x="994.50" y="988.00" font-size="37.6" text-anchor="end">2.8 nm/h</text>
<text x="994.50" y="1025.80" font-size="37.6" text-anchor="end" fill="#078686">0.8 nm/h</text>
<text x="1084.50" y="996.50" font-size="45.8">j</text>
<text x="1459.50" y="988.00" font-size="37.6" text-anchor="end">5.9 nm/h</text>
<text transform="translate(1502.00,182.00) rotate(90)" font-size="37.6" text-anchor="middle">Negative ions</text>
<text transform="translate(1502.00,483.33) rotate(90)" font-size="37.6" text-anchor="middle">Positive ions</text>
<text transform="translate(1543.70,784.67) rotate(90)" font-size="37.6" text-anchor="middle">Total particles</text>
<text transform="translate(1506.90,784.67) rotate(90)" font-size="37.6" text-anchor="middle">(NAIS)</text>
<text transform="translate(1543.70,1086.00) rotate(90)" font-size="37.6" text-anchor="middle">Total particles</text>
<text transform="translate(1506.90,1086.00) rotate(90)" font-size="37.6" text-anchor="middle">(DMPS)</text>
<text transform="translate(32,627.6) rotate(-90)" font-size="45.8" text-anchor="middle">Normalized number of days</text>
<text x="783.5" y="1381.2" font-size="45.8" text-anchor="middle">GR, (nm/h)</text>
<text transform="translate(159.25,670.03) rotate(-22.5)" font-size="46.5" text-anchor="end">10<tspan dy="-17" font-size="32.5">−2</tspan></text>
<text transform="translate(238.95,668.73) rotate(-22.5)" font-size="46.5" text-anchor="end">10<tspan dy="-17" font-size="32.5">−1</tspan></text>
<text transform="translate(315.25,668.53) rotate(-22.5)" font-size="46.5" text-anchor="end">10<tspan dy="-17" font-size="32.5">0</tspan></text>
<text transform="translate(394.55,669.03) rotate(-22.5)" font-size="46.5" text-anchor="end">10<tspan dy="-17" font-size="32.5">1</tspan></text>
<text transform="translate(451.85,669.03) rotate(-22.5)" font-size="46.5" text-anchor="end">10<tspan dy="-17" font-size="32.5">2</tspan></text>
<text transform="translate(530.20,669.03) rotate(-22.5)" font-size="46.5" text-anchor="end">10<tspan dy="-17" font-size="32.5">3</tspan></text>
<text transform="translate(624.25,1272.70) rotate(-22.5)" font-size="46.5" text-anchor="end">10<tspan dy="-17" font-size="32.5">−2</tspan></text>
<text transform="translate(703.95,1271.40) rotate(-22.5)" font-size="46.5" text-anchor="end">10<tspan dy="-17" font-size="32.5">−1</tspan></text>
<text transform="translate(780.25,1271.20) rotate(-22.5)" font-size="46.5" text-anchor="end">10<tspan dy="-17" font-size="32.5">0</tspan></text>
<text transform="translate(859.55,1271.70) rotate(-22.5)" font-size="46.5" text-anchor="end">10<tspan dy="-17" font-size="32.5">1</tspan></text>
<text transform="translate(916.85,1271.70) rotate(-22.5)" font-size="46.5" text-anchor="end">10<tspan dy="-17" font-size="32.5">2</tspan></text>
<text transform="translate(995.20,1271.70) rotate(-22.5)" font-size="46.5" text-anchor="end">10<tspan dy="-17" font-size="32.5">3</tspan></text>
<text transform="translate(1089.25,1272.70) rotate(-22.5)" font-size="46.5" text-anchor="end">10<tspan dy="-17" font-size="32.5">−2</tspan></text>
<text transform="translate(1168.95,1271.40) rotate(-22.5)" font-size="46.5" text-anchor="end">10<tspan dy="-17" font-size="32.5">−1</tspan></text>
<text transform="translate(1245.25,1271.20) rotate(-22.5)" font-size="46.5" text-anchor="end">10<tspan dy="-17" font-size="32.5">0</tspan></text>
<text transform="translate(1324.55,1271.70) rotate(-22.5)" font-size="46.5" text-anchor="end">10<tspan dy="-17" font-size="32.5">1</tspan></text>
<text transform="translate(1381.85,1271.70) rotate(-22.5)" font-size="46.5" text-anchor="end">10<tspan dy="-17" font-size="32.5">2</tspan></text>
<text transform="translate(1460.20,1271.70) rotate(-22.5)" font-size="46.5" text-anchor="end">10<tspan dy="-17" font-size="32.5">3</tspan></text>
<rect x="121.9" y="773.9" width="74.9" height="25.7" fill="#929590"/>
<line x1="122.1" y1="840.1" x2="196.8" y2="840.1" stroke="#078686" stroke-width="4" stroke-dasharray="15.4 6.7"/>
<rect x="121.9" y="880.4" width="74.9" height="25.4" fill="#080e0d"/>
<line x1="120" y1="946.8" x2="199" y2="946.8" stroke="#658abd" stroke-width="3.9"/>
<line x1="120" y1="1002.8" x2="199" y2="1002.8" stroke="#ef9045" stroke-width="3.9"/>
<text x="226.5" y="801.2" font-size="37.6">Background</text>
<text x="226.5" y="854.8" font-size="37.6">Cutoff</text>
<text x="226.5" y="907.6" font-size="37.6">Signal</text>
<text x="226.5" y="960.6" font-size="37.6">Low rank ( &lt; <tspan font-style="italic">P</tspan>80)</text>
<text x="226.5" y="1015.5" font-size="37.6">High rank ( &gt; <tspan font-style="italic">P</tspan>80)</text>
</svg></body></html>
